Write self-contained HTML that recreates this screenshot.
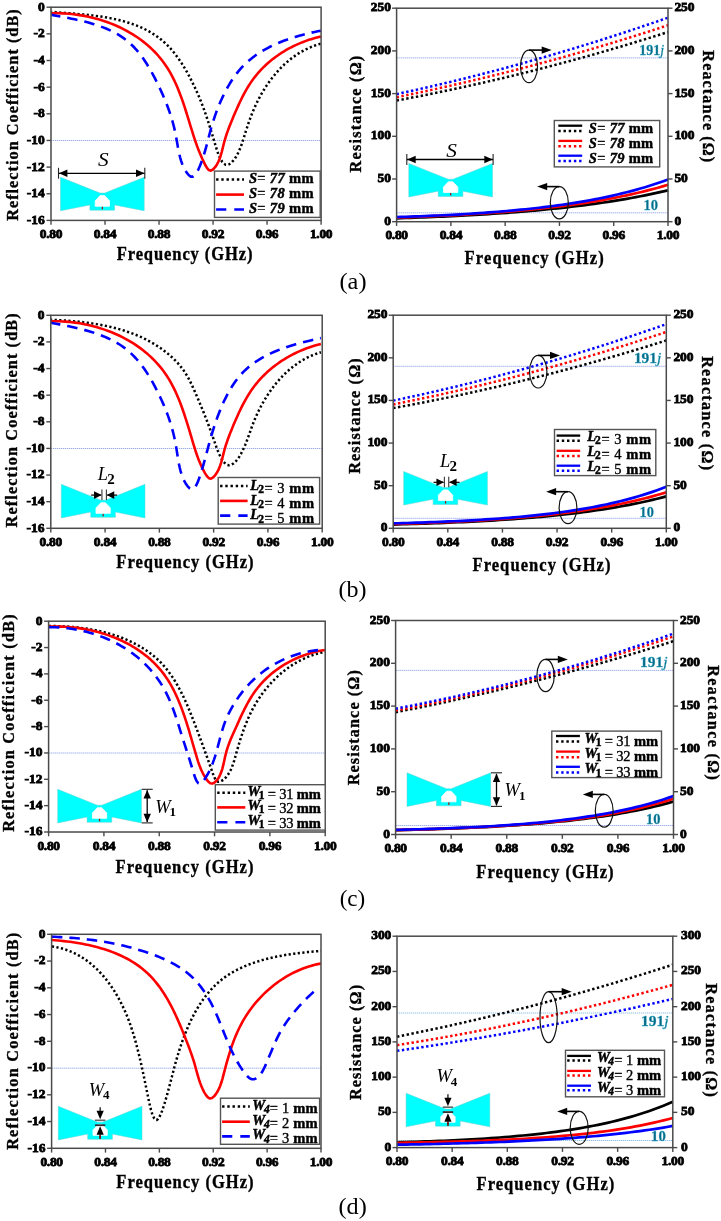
<!DOCTYPE html>
<html><head><meta charset="utf-8"><title>Figure</title>
<style>html,body{margin:0;padding:0;background:#fff;} svg{display:block;} text{font-family:"Liberation Serif",serif;} svg{will-change:transform;}</style></head>
<body><svg width="721" height="1221" viewBox="0 0 721 1221">
<rect width="721" height="1221" fill="#fff"/>
<line x1="51" y1="140.5" x2="321.1" y2="140.5" stroke="#98aaea" stroke-width="1.0" stroke-dasharray="1.3 0.7"/>
<clipPath id="ca"><rect x="51.3" y="3.2" width="269.8" height="221.2"/></clipPath><g clip-path="url(#ca)">
<path d="M50,11.7 52.88,11.96 55.78,12.2 58.71,12.44 61.66,12.67 64.63,12.9 67.61,13.14 70.62,13.37 73.63,13.62 76.66,13.87 79.7,14.14 82.74,14.42 85.79,14.72 88.84,15.05 91.89,15.39 94.94,15.77 97.98,16.17 101.02,16.6 104.05,17.08 107.07,17.58 110.07,18.13 113.06,18.73 116.03,19.36 118.99,20.05 121.92,20.79 124.82,21.59 127.7,22.44 130.55,23.35 133.37,24.33 136.16,25.37 138.91,26.48 141.62,27.67 144.3,28.92 146.93,30.26 149.51,31.67 152.06,33.17 154.55,34.75 156.99,36.42 159.38,38.18 161.71,40.04 163.98,41.99 166.2,44.04 168.35,46.2 170.45,48.44 172.48,50.78 174.45,53.19 176.36,55.66 178.21,58.2 180.01,60.79 181.74,63.42 183.42,66.08 185.05,68.77 186.61,71.47 188.13,74.18 189.58,76.89 190.99,79.58 192.34,82.26 193.63,84.91 194.88,87.52 196.08,90.1 197.23,92.65 198.34,95.19 199.42,97.72 200.46,100.25 201.48,102.8 202.48,105.37 203.46,107.98 204.42,110.63 205.38,113.33 206.34,116.11 207.29,118.95 208.25,121.89 209.22,124.91 210.21,128.05 211.22,131.3 212.25,134.67 213.3,138.19 214.4,141.84 215.53,145.61 216.71,149.36 217.96,152.97 219.28,156.33 220.69,159.3 222.19,161.77 223.81,163.61 225.55,164.69 227.42,164.9 229.42,164.13 231.49,162.54 233.51,160.34 235.4,157.78 237.07,155.02 238.55,152.11 239.86,149.11 241.04,146.04 242.12,142.93 243.13,139.84 244.09,136.79 245.03,133.81 245.95,130.89 246.88,128.02 247.81,125.2 248.76,122.42 249.72,119.67 250.73,116.94 251.77,114.23 252.86,111.53 254.01,108.82 255.22,106.13 256.48,103.44 257.8,100.77 259.17,98.11 260.6,95.47 262.09,92.85 263.64,90.25 265.24,87.69 266.9,85.16 268.61,82.67 270.39,80.21 272.22,77.8 274.11,75.43 276.05,73.11 278.05,70.85 280.11,68.64 282.23,66.49 284.41,64.41 286.64,62.39 288.93,60.44 291.27,58.56 293.68,56.76 296.14,55.04 298.66,53.41 301.24,51.86 303.88,50.4 306.57,49.03 309.32,47.76 312.14,46.59 315,45.53 317.93,44.57 320.92,43.72" fill="none" stroke="#000" stroke-width="2.5" stroke-linejoin="round" stroke-linecap="butt" stroke-dasharray="2.2 2.4"/>
<path d="M49.99,13.24 53.09,13.18 56.2,13.17 59.31,13.23 62.43,13.35 65.55,13.53 68.67,13.77 71.78,14.07 74.9,14.44 78,14.86 81.1,15.35 84.18,15.9 87.26,16.51 90.31,17.18 93.36,17.91 96.38,18.71 99.39,19.56 102.37,20.48 105.33,21.46 108.27,22.5 111.17,23.6 114.05,24.77 116.9,25.99 119.71,27.28 122.49,28.63 125.23,30.04 127.93,31.51 130.59,33.04 133.21,34.64 135.79,36.29 138.31,38.01 140.79,39.79 143.22,41.63 145.6,43.53 147.92,45.5 150.19,47.52 152.4,49.61 154.54,51.76 156.63,53.97 158.65,56.24 160.61,58.57 162.5,60.97 164.32,63.42 166.07,65.94 167.74,68.52 169.35,71.16 170.88,73.86 172.35,76.6 173.76,79.39 175.11,82.23 176.41,85.1 177.65,88.01 178.85,90.95 180,93.91 181.12,96.9 182.2,99.9 183.24,102.92 184.26,105.94 185.25,108.98 186.21,112.01 187.16,115.04 188.1,118.06 189.02,121.07 189.93,124.07 190.84,127.04 191.75,129.99 192.67,132.92 193.59,135.81 194.52,138.67 195.47,141.49 196.45,144.31 197.47,147.14 198.56,149.98 199.71,152.86 200.95,155.78 202.27,158.78 203.71,161.85 205.26,165.01 206.95,167.96 208.8,170.06 210.84,170.65 213.01,169.5 215.11,167.23 216.96,164.46 218.49,161.51 219.76,158.43 220.82,155.25 221.74,152.01 222.56,148.76 223.34,145.54 224.15,142.39 225.01,139.32 225.92,136.34 226.88,133.42 227.89,130.56 228.93,127.74 230.02,124.94 231.14,122.17 232.28,119.39 233.45,116.61 234.64,113.81 235.85,111 237.1,108.17 238.37,105.35 239.68,102.52 241.03,99.71 242.43,96.91 243.88,94.13 245.38,91.38 246.93,88.67 248.55,86 250.24,83.37 252,80.8 253.83,78.29 255.73,75.84 257.71,73.46 259.76,71.14 261.88,68.88 264.07,66.69 266.32,64.57 268.62,62.51 270.99,60.52 273.42,58.59 275.9,56.74 278.43,54.95 281,53.22 283.63,51.57 286.3,49.99 289.01,48.47 291.76,47.03 294.55,45.65 297.37,44.35 300.23,43.11 303.11,41.95 306.02,40.86 308.96,39.84 311.92,38.9 314.89,38.03 317.89,37.23 320.9,36.5" fill="none" stroke="#ff0000" stroke-width="2.6" stroke-linejoin="round" stroke-linecap="butt"/>
<path d="M50,14.6 52.99,15.15 56.03,15.71 59.1,16.27 62.21,16.84 65.34,17.43 68.49,18.03 71.66,18.67 74.84,19.33 78.03,20.02 81.21,20.75 84.39,21.53 87.56,22.35 90.72,23.23 93.85,24.16 96.96,25.16 100.03,26.22 103.07,27.35 106.07,28.55 109.02,29.84 111.92,31.21 114.75,32.67 117.53,34.22 120.24,35.87 122.87,37.62 125.43,39.48 127.9,41.45 130.28,43.54 132.58,45.73 134.79,48.02 136.93,50.41 138.99,52.88 140.97,55.43 142.89,58.05 144.73,60.73 146.52,63.47 148.24,66.25 149.91,69.07 151.53,71.92 153.09,74.8 154.6,77.69 156.08,80.59 157.51,83.48 158.9,86.38 160.26,89.26 161.58,92.13 162.86,95 164.11,97.87 165.31,100.74 166.47,103.63 167.59,106.52 168.67,109.44 169.7,112.39 170.68,115.36 171.62,118.36 172.51,121.4 173.35,124.49 174.14,127.62 174.88,130.8 175.56,134.03 176.19,137.33 176.78,140.68 177.36,144.06 177.96,147.46 178.61,150.85 179.33,154.22 180.16,157.56 181.13,160.83 182.25,164.03 183.57,167.13 185.12,170.11 186.9,172.92 188.84,175.22 190.86,176.58 192.84,176.61 194.73,175.27 196.53,172.89 198.21,169.78 199.76,166.26 201.17,162.66 202.44,159.16 203.58,155.75 204.62,152.43 205.56,149.18 206.44,146 207.26,142.88 208.05,139.8 208.83,136.76 209.61,133.74 210.41,130.74 211.24,127.75 212.12,124.77 213.03,121.79 213.99,118.82 214.99,115.86 216.04,112.9 217.14,109.95 218.3,106.99 219.5,104.05 220.77,101.1 222.09,98.16 223.48,95.24 224.92,92.33 226.44,89.46 228.01,86.61 229.66,83.81 231.38,81.05 233.17,78.35 235.03,75.71 236.97,73.13 238.99,70.63 241.09,68.21 243.27,65.87 245.53,63.63 247.87,61.48 250.28,59.41 252.77,57.44 255.33,55.55 257.95,53.74 260.63,52.01 263.37,50.36 266.15,48.78 268.99,47.28 271.87,45.85 274.8,44.49 277.76,43.19 280.75,41.96 283.77,40.78 286.82,39.67 289.89,38.62 292.97,37.62 296.07,36.67 299.18,35.77 302.3,34.92 305.41,34.12 308.53,33.36 311.64,32.64 314.74,31.95 317.82,31.31 320.89,30.7" fill="none" stroke="#0000ff" stroke-width="2.6" stroke-linejoin="round" stroke-linecap="butt" stroke-dasharray="10.5 7"/>
</g>
<rect x="51" y="7.2" width="270.1" height="213.2" fill="none" stroke="#4a4a4a" stroke-width="1.5"/>
<line x1="46.5" y1="7.2" x2="51" y2="7.2" stroke="#4a4a4a" stroke-width="1.4" />
<text x="44.8" y="10.6" font-size="13.5" font-weight="bold" font-style="normal" text-anchor="end" fill="#000" stroke="#000" stroke-width="0.8" >0</text>
<line x1="46.5" y1="33.85" x2="51" y2="33.85" stroke="#4a4a4a" stroke-width="1.4" />
<text x="44.8" y="37.25" font-size="13.5" font-weight="bold" font-style="normal" text-anchor="end" fill="#000" stroke="#000" stroke-width="0.8" >-2</text>
<line x1="46.5" y1="60.5" x2="51" y2="60.5" stroke="#4a4a4a" stroke-width="1.4" />
<text x="44.8" y="63.9" font-size="13.5" font-weight="bold" font-style="normal" text-anchor="end" fill="#000" stroke="#000" stroke-width="0.8" >-4</text>
<line x1="46.5" y1="87.15" x2="51" y2="87.15" stroke="#4a4a4a" stroke-width="1.4" />
<text x="44.8" y="90.55" font-size="13.5" font-weight="bold" font-style="normal" text-anchor="end" fill="#000" stroke="#000" stroke-width="0.8" >-6</text>
<line x1="46.5" y1="113.8" x2="51" y2="113.8" stroke="#4a4a4a" stroke-width="1.4" />
<text x="44.8" y="117.2" font-size="13.5" font-weight="bold" font-style="normal" text-anchor="end" fill="#000" stroke="#000" stroke-width="0.8" >-8</text>
<line x1="46.5" y1="140.45" x2="51" y2="140.45" stroke="#4a4a4a" stroke-width="1.4" />
<text x="44.8" y="143.85" font-size="13.5" font-weight="bold" font-style="normal" text-anchor="end" fill="#000" stroke="#000" stroke-width="0.8" >-10</text>
<line x1="46.5" y1="167.1" x2="51" y2="167.1" stroke="#4a4a4a" stroke-width="1.4" />
<text x="44.8" y="170.5" font-size="13.5" font-weight="bold" font-style="normal" text-anchor="end" fill="#000" stroke="#000" stroke-width="0.8" >-12</text>
<line x1="46.5" y1="193.75" x2="51" y2="193.75" stroke="#4a4a4a" stroke-width="1.4" />
<text x="44.8" y="197.15" font-size="13.5" font-weight="bold" font-style="normal" text-anchor="end" fill="#000" stroke="#000" stroke-width="0.8" >-14</text>
<line x1="46.5" y1="220.4" x2="51" y2="220.4" stroke="#4a4a4a" stroke-width="1.4" />
<text x="44.8" y="223.8" font-size="13.5" font-weight="bold" font-style="normal" text-anchor="end" fill="#000" stroke="#000" stroke-width="0.8" >-16</text>
<line x1="51" y1="220.4" x2="51" y2="224.7" stroke="#4a4a4a" stroke-width="1.4" />
<text x="51" y="238" font-size="13.5" font-weight="bold" font-style="normal" text-anchor="middle" fill="#000" letter-spacing="-0.3" stroke="#000" stroke-width="0.8" >0.80</text>
<line x1="105.02" y1="220.4" x2="105.02" y2="224.7" stroke="#4a4a4a" stroke-width="1.4" />
<text x="105.02" y="238" font-size="13.5" font-weight="bold" font-style="normal" text-anchor="middle" fill="#000" letter-spacing="-0.3" stroke="#000" stroke-width="0.8" >0.84</text>
<line x1="159.04" y1="220.4" x2="159.04" y2="224.7" stroke="#4a4a4a" stroke-width="1.4" />
<text x="159.04" y="238" font-size="13.5" font-weight="bold" font-style="normal" text-anchor="middle" fill="#000" letter-spacing="-0.3" stroke="#000" stroke-width="0.8" >0.88</text>
<line x1="213.06" y1="220.4" x2="213.06" y2="224.7" stroke="#4a4a4a" stroke-width="1.4" />
<text x="213.06" y="238" font-size="13.5" font-weight="bold" font-style="normal" text-anchor="middle" fill="#000" letter-spacing="-0.3" stroke="#000" stroke-width="0.8" >0.92</text>
<line x1="267.08" y1="220.4" x2="267.08" y2="224.7" stroke="#4a4a4a" stroke-width="1.4" />
<text x="267.08" y="238" font-size="13.5" font-weight="bold" font-style="normal" text-anchor="middle" fill="#000" letter-spacing="-0.3" stroke="#000" stroke-width="0.8" >0.96</text>
<line x1="321.1" y1="220.4" x2="321.1" y2="224.7" stroke="#4a4a4a" stroke-width="1.4" />
<text x="321.1" y="238" font-size="13.5" font-weight="bold" font-style="normal" text-anchor="middle" fill="#000" letter-spacing="-0.3" stroke="#000" stroke-width="0.8" >1.00</text>
<text x="0" y="0" transform="translate(18.4 115.1) rotate(-90) scale(0.92 1)" font-size="17.6" font-weight="bold" text-anchor="middle" stroke="#000" stroke-width="0.35" textLength="229.89" lengthAdjust="spacing">Reflection&#160;Coefficient&#160;(dB)</text>
<text x="0" y="0" transform="translate(116.7 259.9) scale(0.92 1)" font-size="18" font-weight="bold" text-anchor="start" stroke="#000" stroke-width="0.35" textLength="147.61" lengthAdjust="spacing">Frequency (GHz)</text>
<rect x="214.5" y="171.1" width="105.7" height="46.3" fill="#fff" stroke="#555" stroke-width="1.4"/>
<line x1="216.1" y1="179.4" x2="244" y2="179.4" stroke="#000" stroke-width="2.5" stroke-dasharray="2.4 2.8"/>
<text x="248.9" y="182.7" font-size="14.5" font-weight="bold" font-style="italic" stroke="#000" stroke-width="0.45" textLength="64.7" lengthAdjust="spacing">S<tspan font-style="normal" font-weight="normal" stroke-width="0.3">= </tspan><tspan font-style="italic" font-weight="bold">77</tspan><tspan font-style="normal"> mm</tspan></text>
<line x1="216.1" y1="194.6" x2="244" y2="194.6" stroke="#ff0000" stroke-width="2.6" />
<text x="248.9" y="197.9" font-size="14.5" font-weight="bold" font-style="italic" stroke="#000" stroke-width="0.45" textLength="64.7" lengthAdjust="spacing">S<tspan font-style="normal" font-weight="normal" stroke-width="0.3">= </tspan><tspan font-style="italic" font-weight="bold">78</tspan><tspan font-style="normal"> mm</tspan></text>
<line x1="216.1" y1="209.5" x2="244" y2="209.5" stroke="#0000ff" stroke-width="2.6" stroke-dasharray="10.2 8"/>
<text x="248.9" y="212.8" font-size="14.5" font-weight="bold" font-style="italic" stroke="#000" stroke-width="0.45" textLength="64.7" lengthAdjust="spacing">S<tspan font-style="normal" font-weight="normal" stroke-width="0.3">= </tspan><tspan font-style="italic" font-weight="bold">79</tspan><tspan font-style="normal"> mm</tspan></text>
<path d="M60.5,177.2 L100,193.09 L104.7,193.09 L144.2,177.2 L144.2,210.8 L114.6,204.97 L114.6,210.2 L89.9,210.2 L89.9,204.97 L60.5,210.8 Z" fill="#00ffff" stroke="#60d0d0" stroke-width="0.5"/>
<path d="M100.1,195.61 L104.6,195.61 L109.5,200.84 L109.5,206.27 L95.2,206.27 L95.2,200.84 Z" fill="#fff" stroke="#fff" stroke-width="0.8" stroke-linejoin="round"/>
<rect x="101.7" y="206.78" width="1.3" height="2.5" fill="#a01818"/>
<line x1="58.5" y1="173.3" x2="144.8" y2="173.3" stroke="#000" stroke-width="1.3" />
<path d="M58.9,173.3 L67.4,169.6 L67.4,177 Z" fill="#000"/>
<path d="M144.5,173.3 L136,177 L136,169.6 Z" fill="#000"/>
<line x1="58.5" y1="167.8" x2="58.5" y2="178.7" stroke="#222" stroke-width="1.1" />
<line x1="144.8" y1="167.8" x2="144.8" y2="178.7" stroke="#222" stroke-width="1.1" />
<text x="103.35" y="165.6" font-size="18.5" font-style="italic" text-anchor="middle" transform="translate(103.35 165.6) scale(1.15 1) translate(-103.35 -165.6)">S</text>
<line x1="396.6" y1="57.9" x2="668" y2="57.9" stroke="#98aaea" stroke-width="1.0" stroke-dasharray="1.3 0.7"/>
<line x1="396.6" y1="212.8" x2="668" y2="212.8" stroke="#98aaea" stroke-width="1.0" stroke-dasharray="1.3 0.7"/>
<path d="M396.6,100.52 401.2,99.66 405.8,98.79 410.4,97.92 415,97.03 419.6,96.13 424.2,95.22 428.8,94.3 433.4,93.37 438,92.43 442.6,91.48 447.2,90.52 451.8,89.55 456.4,88.56 461,87.57 465.6,86.57 470.2,85.55 474.8,84.53 479.4,83.49 484,82.45 488.6,81.39 493.2,80.32 497.8,79.25 502.4,78.16 507,77.06 511.6,75.95 516.2,74.84 520.8,73.71 525.4,72.57 530,71.42 534.6,70.25 539.2,69.08 543.8,67.9 548.4,66.71 553,65.51 557.6,64.29 562.2,63.07 566.8,61.84 571.4,60.59 576,59.34 580.6,58.07 585.2,56.79 589.8,55.51 594.4,54.21 599,52.9 603.6,51.58 608.2,50.25 612.8,48.92 617.4,47.57 622,46.21 626.6,44.83 631.2,43.45 635.8,42.06 640.4,40.66 645,39.25 649.6,37.82 654.2,36.39 658.8,34.95 663.4,33.49 668,32.03" fill="none" stroke="#000" stroke-width="2.5" stroke-linejoin="round" stroke-linecap="butt" stroke-dasharray="2.4 2.5"/>
<path d="M396.6,97.19 401.2,96.26 405.8,95.32 410.4,94.36 415,93.4 419.6,92.43 424.2,91.45 428.8,90.46 433.4,89.46 438,88.45 442.6,87.43 447.2,86.4 451.8,85.36 456.4,84.31 461,83.25 465.6,82.18 470.2,81.1 474.8,80.01 479.4,78.91 484,77.8 488.6,76.68 493.2,75.55 497.8,74.41 502.4,73.26 507,72.11 511.6,70.94 516.2,69.76 520.8,68.57 525.4,67.37 530,66.16 534.6,64.94 539.2,63.71 543.8,62.47 548.4,61.23 553,59.97 557.6,58.7 562.2,57.42 566.8,56.13 571.4,54.83 576,53.53 580.6,52.21 585.2,50.88 589.8,49.54 594.4,48.19 599,46.84 603.6,45.47 608.2,44.09 612.8,42.7 617.4,41.31 622,39.9 626.6,38.48 631.2,37.06 635.8,35.62 640.4,34.17 645,32.71 649.6,31.25 654.2,29.77 658.8,28.28 663.4,26.79 668,25.28" fill="none" stroke="#ff0000" stroke-width="2.5" stroke-linejoin="round" stroke-linecap="butt" stroke-dasharray="2.4 2.5"/>
<path d="M396.6,94.11 401.2,93.12 405.8,92.12 410.4,91.11 415,90.09 419.6,89.06 424.2,88.02 428.8,86.97 433.4,85.91 438,84.83 442.6,83.75 447.2,82.66 451.8,81.55 456.4,80.44 461,79.31 465.6,78.17 470.2,77.03 474.8,75.87 479.4,74.7 484,73.52 488.6,72.33 493.2,71.13 497.8,69.92 502.4,68.7 507,67.47 511.6,66.22 516.2,64.97 520.8,63.71 525.4,62.43 530,61.15 534.6,59.85 539.2,58.55 543.8,57.23 548.4,55.9 553,54.56 557.6,53.22 562.2,51.86 566.8,50.49 571.4,49.11 576,47.72 580.6,46.32 585.2,44.9 589.8,43.48 594.4,42.05 599,40.6 603.6,39.15 608.2,37.69 612.8,36.21 617.4,34.72 622,33.23 626.6,31.72 631.2,30.2 635.8,28.67 640.4,27.14 645,25.59 649.6,24.03 654.2,22.45 658.8,20.87 663.4,19.28 668,17.68" fill="none" stroke="#0000ff" stroke-width="2.5" stroke-linejoin="round" stroke-linecap="butt" stroke-dasharray="2.4 2.5"/>
<path d="M396.6,218.31 401.2,218.16 405.8,218 410.4,217.84 415,217.67 419.6,217.49 424.2,217.31 428.8,217.13 433.4,216.94 438,216.74 442.6,216.53 447.2,216.32 451.8,216.1 456.4,215.87 461,215.63 465.6,215.39 470.2,215.14 474.8,214.87 479.4,214.6 484,214.33 488.6,214.04 493.2,213.74 497.8,213.43 502.4,213.11 507,212.78 511.6,212.44 516.2,212.08 520.8,211.72 525.4,211.34 530,210.95 534.6,210.54 539.2,210.13 543.8,209.69 548.4,209.25 553,208.78 557.6,208.3 562.2,207.81 566.8,207.3 571.4,206.77 576,206.22 580.6,205.65 585.2,205.07 589.8,204.46 594.4,203.84 599,203.19 603.6,202.52 608.2,201.82 612.8,201.11 617.4,200.36 622,199.6 626.6,198.8 631.2,197.98 635.8,197.14 640.4,196.26 645,195.35 649.6,194.41 654.2,193.44 658.8,192.44 663.4,191.4 668,190.32" fill="none" stroke="#000" stroke-width="2.7" stroke-linejoin="round" stroke-linecap="butt"/>
<path d="M396.6,217.6 401.2,217.44 405.8,217.28 410.4,217.12 415,216.94 419.6,216.76 424.2,216.58 428.8,216.38 433.4,216.18 438,215.97 442.6,215.76 447.2,215.53 451.8,215.3 456.4,215.06 461,214.81 465.6,214.54 470.2,214.27 474.8,213.99 479.4,213.7 484,213.4 488.6,213.08 493.2,212.76 497.8,212.42 502.4,212.06 507,211.7 511.6,211.32 516.2,210.93 520.8,210.52 525.4,210.09 530,209.65 534.6,209.2 539.2,208.72 543.8,208.23 548.4,207.72 553,207.19 557.6,206.63 562.2,206.06 566.8,205.47 571.4,204.85 576,204.21 580.6,203.55 585.2,202.86 589.8,202.14 594.4,201.4 599,200.63 603.6,199.82 608.2,198.99 612.8,198.13 617.4,197.23 622,196.3 626.6,195.34 631.2,194.34 635.8,193.29 640.4,192.21 645,191.09 649.6,189.93 654.2,188.72 658.8,187.47 663.4,186.16 668,184.81" fill="none" stroke="#ff0000" stroke-width="2.7" stroke-linejoin="round" stroke-linecap="butt"/>
<path d="M396.6,217.13 401.2,216.97 405.8,216.81 410.4,216.65 415,216.47 419.6,216.29 424.2,216.11 428.8,215.91 433.4,215.71 438,215.49 442.6,215.27 447.2,215.04 451.8,214.8 456.4,214.55 461,214.29 465.6,214.02 470.2,213.73 474.8,213.44 479.4,213.13 484,212.81 488.6,212.47 493.2,212.13 497.8,211.76 502.4,211.38 507,210.99 511.6,210.58 516.2,210.15 520.8,209.71 525.4,209.24 530,208.76 534.6,208.25 539.2,207.73 543.8,207.18 548.4,206.61 553,206.02 557.6,205.4 562.2,204.75 566.8,204.08 571.4,203.38 576,202.65 580.6,201.89 585.2,201.09 589.8,200.27 594.4,199.41 599,198.51 603.6,197.58 608.2,196.6 612.8,195.59 617.4,194.53 622,193.43 626.6,192.29 631.2,191.09 635.8,189.84 640.4,188.55 645,187.19 649.6,185.79 654.2,184.32 658.8,182.79 663.4,181.19 668,179.53" fill="none" stroke="#0000ff" stroke-width="2.7" stroke-linejoin="round" stroke-linecap="butt"/>
<rect x="396.6" y="8.2" width="271.4" height="213.5" fill="none" stroke="#4a4a4a" stroke-width="1.5"/>
<line x1="392.1" y1="221.7" x2="396.6" y2="221.7" stroke="#4a4a4a" stroke-width="1.4" />
<line x1="668" y1="221.7" x2="672.5" y2="221.7" stroke="#4a4a4a" stroke-width="1.4" />
<text x="390.8" y="224.7" font-size="13.5" font-weight="bold" font-style="normal" text-anchor="end" fill="#000" letter-spacing="-0.1" stroke="#000" stroke-width="0.8" >0</text>
<text x="674.4" y="224.7" font-size="13.5" font-weight="bold" font-style="normal" text-anchor="start" fill="#000" letter-spacing="-0.1" stroke="#000" stroke-width="0.8" >0</text>
<line x1="392.1" y1="179" x2="396.6" y2="179" stroke="#4a4a4a" stroke-width="1.4" />
<line x1="668" y1="179" x2="672.5" y2="179" stroke="#4a4a4a" stroke-width="1.4" />
<text x="390.8" y="182" font-size="13.5" font-weight="bold" font-style="normal" text-anchor="end" fill="#000" letter-spacing="-0.1" stroke="#000" stroke-width="0.8" >50</text>
<text x="674.4" y="182" font-size="13.5" font-weight="bold" font-style="normal" text-anchor="start" fill="#000" letter-spacing="-0.1" stroke="#000" stroke-width="0.8" >50</text>
<line x1="392.1" y1="136.3" x2="396.6" y2="136.3" stroke="#4a4a4a" stroke-width="1.4" />
<line x1="668" y1="136.3" x2="672.5" y2="136.3" stroke="#4a4a4a" stroke-width="1.4" />
<text x="390.8" y="139.3" font-size="13.5" font-weight="bold" font-style="normal" text-anchor="end" fill="#000" letter-spacing="-0.1" stroke="#000" stroke-width="0.8" >100</text>
<text x="674.4" y="139.3" font-size="13.5" font-weight="bold" font-style="normal" text-anchor="start" fill="#000" letter-spacing="-0.1" stroke="#000" stroke-width="0.8" >100</text>
<line x1="392.1" y1="93.6" x2="396.6" y2="93.6" stroke="#4a4a4a" stroke-width="1.4" />
<line x1="668" y1="93.6" x2="672.5" y2="93.6" stroke="#4a4a4a" stroke-width="1.4" />
<text x="390.8" y="96.6" font-size="13.5" font-weight="bold" font-style="normal" text-anchor="end" fill="#000" letter-spacing="-0.1" stroke="#000" stroke-width="0.8" >150</text>
<text x="674.4" y="96.6" font-size="13.5" font-weight="bold" font-style="normal" text-anchor="start" fill="#000" letter-spacing="-0.1" stroke="#000" stroke-width="0.8" >150</text>
<line x1="392.1" y1="50.9" x2="396.6" y2="50.9" stroke="#4a4a4a" stroke-width="1.4" />
<line x1="668" y1="50.9" x2="672.5" y2="50.9" stroke="#4a4a4a" stroke-width="1.4" />
<text x="390.8" y="53.9" font-size="13.5" font-weight="bold" font-style="normal" text-anchor="end" fill="#000" letter-spacing="-0.1" stroke="#000" stroke-width="0.8" >200</text>
<text x="674.4" y="53.9" font-size="13.5" font-weight="bold" font-style="normal" text-anchor="start" fill="#000" letter-spacing="-0.1" stroke="#000" stroke-width="0.8" >200</text>
<line x1="392.1" y1="8.2" x2="396.6" y2="8.2" stroke="#4a4a4a" stroke-width="1.4" />
<line x1="668" y1="8.2" x2="672.5" y2="8.2" stroke="#4a4a4a" stroke-width="1.4" />
<text x="390.8" y="11.2" font-size="13.5" font-weight="bold" font-style="normal" text-anchor="end" fill="#000" letter-spacing="-0.1" stroke="#000" stroke-width="0.8" >250</text>
<text x="674.4" y="11.2" font-size="13.5" font-weight="bold" font-style="normal" text-anchor="start" fill="#000" letter-spacing="-0.1" stroke="#000" stroke-width="0.8" >250</text>
<line x1="396.6" y1="221.7" x2="396.6" y2="226" stroke="#4a4a4a" stroke-width="1.4" />
<text x="396.6" y="239.3" font-size="13.5" font-weight="bold" font-style="normal" text-anchor="middle" fill="#000" letter-spacing="-0.3" stroke="#000" stroke-width="0.8" >0.80</text>
<line x1="450.88" y1="221.7" x2="450.88" y2="226" stroke="#4a4a4a" stroke-width="1.4" />
<text x="450.88" y="239.3" font-size="13.5" font-weight="bold" font-style="normal" text-anchor="middle" fill="#000" letter-spacing="-0.3" stroke="#000" stroke-width="0.8" >0.84</text>
<line x1="505.16" y1="221.7" x2="505.16" y2="226" stroke="#4a4a4a" stroke-width="1.4" />
<text x="505.16" y="239.3" font-size="13.5" font-weight="bold" font-style="normal" text-anchor="middle" fill="#000" letter-spacing="-0.3" stroke="#000" stroke-width="0.8" >0.88</text>
<line x1="559.44" y1="221.7" x2="559.44" y2="226" stroke="#4a4a4a" stroke-width="1.4" />
<text x="559.44" y="239.3" font-size="13.5" font-weight="bold" font-style="normal" text-anchor="middle" fill="#000" letter-spacing="-0.3" stroke="#000" stroke-width="0.8" >0.92</text>
<line x1="613.72" y1="221.7" x2="613.72" y2="226" stroke="#4a4a4a" stroke-width="1.4" />
<text x="613.72" y="239.3" font-size="13.5" font-weight="bold" font-style="normal" text-anchor="middle" fill="#000" letter-spacing="-0.3" stroke="#000" stroke-width="0.8" >0.96</text>
<line x1="668" y1="221.7" x2="668" y2="226" stroke="#4a4a4a" stroke-width="1.4" />
<text x="668" y="239.3" font-size="13.5" font-weight="bold" font-style="normal" text-anchor="middle" fill="#000" letter-spacing="-0.3" stroke="#000" stroke-width="0.8" >1.00</text>
<text x="0" y="0" transform="translate(360.85 114.1) rotate(-90) scale(0.92 1)" font-size="17.6" font-weight="bold" text-anchor="middle" stroke="#000" stroke-width="0.35" textLength="126.85" lengthAdjust="spacing">Resistance&#160;(&#937;)</text>
<text x="0" y="0" transform="translate(702.8 106.3) rotate(90) scale(0.92 1)" font-size="17.6" font-weight="bold" text-anchor="middle" stroke="#000" stroke-width="0.35" textLength="121.63" lengthAdjust="spacing">Reactance&#160;(&#937;)</text>
<text x="0" y="0" transform="translate(464.5 263.7) scale(0.92 1)" font-size="18" font-weight="bold" text-anchor="start" stroke="#000" stroke-width="0.35" textLength="151.3" lengthAdjust="spacing">Frequency (GHz)</text>
<text x="639.3" y="54.8" font-size="14.5" font-weight="bold" fill="#0c6a86" stroke="#2aa8c8" stroke-width="0.35" textLength="24.9" lengthAdjust="spacingAndGlyphs">191<tspan font-style="italic" font-weight="normal">j</tspan></text>
<text x="643.5" y="209.7" font-size="14.5" font-weight="bold" fill="#0c6a86" stroke="#2aa8c8" stroke-width="0.35" textLength="14.5" lengthAdjust="spacingAndGlyphs">10</text>
<ellipse cx="529" cy="66.4" rx="8.5" ry="16.3" fill="none" stroke="#111" stroke-width="1.2"/>
<line x1="529" y1="50.1" x2="544.7" y2="50.1" stroke="#000" stroke-width="1.6" />
<path d="M551.7,50.1 L541.7,46.5 L541.7,53.7 Z" fill="#000"/>
<ellipse cx="559.3" cy="202.7" rx="9" ry="16.1" fill="none" stroke="#111" stroke-width="1.2"/>
<line x1="559.3" y1="186.6" x2="544.2" y2="186.6" stroke="#000" stroke-width="1.6" />
<path d="M537.2,186.6 L547.2,183 L547.2,190.2 Z" fill="#000"/>
<rect x="554.3" y="120.5" width="105.4" height="46.4" fill="#fff" stroke="#555" stroke-width="1.4"/>
<line x1="558.3" y1="125.7" x2="582.2" y2="125.7" stroke="#000" stroke-width="2.3" />
<line x1="558.3" y1="131.1" x2="582.2" y2="131.1" stroke="#000" stroke-width="2.5" stroke-dasharray="2.4 2.8"/>
<text x="588.8" y="132.6" font-size="14.5" font-weight="bold" font-style="italic" stroke="#000" stroke-width="0.45" textLength="64.4" lengthAdjust="spacing">S<tspan font-style="normal" font-weight="normal" stroke-width="0.3">= </tspan><tspan font-style="italic" font-weight="bold">77</tspan><tspan font-style="normal"> mm</tspan></text>
<line x1="558.3" y1="140.9" x2="582.2" y2="140.9" stroke="#ff0000" stroke-width="2.3" />
<line x1="558.3" y1="146.3" x2="582.2" y2="146.3" stroke="#ff0000" stroke-width="2.5" stroke-dasharray="2.4 2.8"/>
<text x="588.8" y="147.8" font-size="14.5" font-weight="bold" font-style="italic" stroke="#000" stroke-width="0.45" textLength="64.4" lengthAdjust="spacing">S<tspan font-style="normal" font-weight="normal" stroke-width="0.3">= </tspan><tspan font-style="italic" font-weight="bold">78</tspan><tspan font-style="normal"> mm</tspan></text>
<line x1="558.3" y1="155.7" x2="582.2" y2="155.7" stroke="#0000ff" stroke-width="2.3" />
<line x1="558.3" y1="161.1" x2="582.2" y2="161.1" stroke="#0000ff" stroke-width="2.5" stroke-dasharray="2.4 2.8"/>
<text x="588.8" y="162.6" font-size="14.5" font-weight="bold" font-style="italic" stroke="#000" stroke-width="0.45" textLength="64.4" lengthAdjust="spacing">S<tspan font-style="normal" font-weight="normal" stroke-width="0.3">= </tspan><tspan font-style="italic" font-weight="bold">79</tspan><tspan font-style="normal"> mm</tspan></text>
<path d="M408.8,163.4 L448.3,179.29 L453,179.29 L492.5,163.4 L492.5,197 L462.9,191.17 L462.9,196.4 L438.2,196.4 L438.2,191.17 L408.8,197 Z" fill="#00ffff" stroke="#60d0d0" stroke-width="0.5"/>
<path d="M448.4,181.81 L452.9,181.81 L457.8,187.04 L457.8,192.47 L443.5,192.47 L443.5,187.04 Z" fill="#fff" stroke="#fff" stroke-width="0.8" stroke-linejoin="round"/>
<rect x="450" y="192.98" width="1.3" height="2.5" fill="#a01818"/>
<line x1="406.8" y1="159.5" x2="493.1" y2="159.5" stroke="#000" stroke-width="1.3" />
<path d="M407.2,159.5 L415.7,155.8 L415.7,163.2 Z" fill="#000"/>
<path d="M492.8,159.5 L484.3,163.2 L484.3,155.8 Z" fill="#000"/>
<line x1="406.8" y1="154" x2="406.8" y2="164.9" stroke="#222" stroke-width="1.1" />
<line x1="493.1" y1="154" x2="493.1" y2="164.9" stroke="#222" stroke-width="1.1" />
<text x="451.65" y="156.8" font-size="18.5" font-style="italic" text-anchor="middle" transform="translate(451.65 156.8) scale(1.15 1) translate(-451.65 -156.8)">S</text>
<text x="339.5" y="288.8" font-size="23.5" font-weight="normal" font-style="normal" text-anchor="start" fill="#000" textLength="27" lengthAdjust="spacingAndGlyphs">(a)</text>
<line x1="50.8" y1="448.5" x2="322.2" y2="448.5" stroke="#98aaea" stroke-width="1.0" stroke-dasharray="1.3 0.7"/>
<clipPath id="cb"><rect x="51.1" y="311.3" width="271.1" height="221"/></clipPath><g clip-path="url(#cb)">
<path d="M50,319.72 52.87,319.85 55.76,319.99 58.65,320.15 61.55,320.32 64.45,320.51 67.36,320.72 70.27,320.95 73.19,321.2 76.1,321.47 79.01,321.77 81.93,322.09 84.84,322.44 87.74,322.81 90.64,323.21 93.54,323.65 96.43,324.11 99.31,324.61 102.18,325.15 105.04,325.71 107.89,326.32 110.73,326.97 113.55,327.65 116.36,328.38 119.15,329.14 121.93,329.95 124.69,330.81 127.43,331.72 130.14,332.67 132.84,333.67 135.52,334.72 138.17,335.82 140.8,336.98 143.4,338.19 145.97,339.46 148.52,340.78 151.04,342.16 153.52,343.61 155.98,345.11 158.4,346.68 160.79,348.31 163.15,350 165.47,351.77 167.75,353.6 170,355.5 172.19,357.47 174.33,359.51 176.41,361.63 178.42,363.82 180.35,366.09 182.2,368.44 183.95,370.87 185.61,373.37 187.16,375.95 188.63,378.58 190.02,381.24 191.34,383.92 192.59,386.6 193.8,389.26 194.96,391.88 196.09,394.45 197.19,396.98 198.27,399.47 199.32,401.94 200.36,404.4 201.39,406.86 202.4,409.33 203.41,411.82 204.41,414.34 205.42,416.91 206.44,419.53 207.46,422.22 208.5,424.99 209.56,427.84 210.64,430.8 211.74,433.87 212.88,437.06 214.04,440.38 215.25,443.83 216.5,447.34 217.81,450.79 219.18,454.09 220.62,457.15 222.15,459.85 223.77,462.11 225.48,463.83 227.31,464.9 229.26,465.22 231.32,464.72 233.45,463.46 235.55,461.6 237.53,459.29 239.36,456.65 241.03,453.79 242.55,450.81 243.94,447.81 245.2,444.89 246.35,442.04 247.41,439.27 248.41,436.55 249.36,433.88 250.29,431.25 251.21,428.65 252.15,426.05 253.12,423.46 254.15,420.87 255.24,418.27 256.37,415.67 257.56,413.08 258.8,410.5 260.1,407.92 261.45,405.36 262.85,402.82 264.31,400.3 265.82,397.8 267.39,395.33 269,392.88 270.67,390.47 272.4,388.1 274.17,385.77 276,383.47 277.89,381.23 279.83,379.03 281.82,376.89 283.86,374.8 285.96,372.77 288.11,370.8 290.31,368.9 292.57,367.07 294.88,365.3 297.24,363.61 299.66,362 302.13,360.48 304.65,359.03 307.23,357.67 309.86,356.41 312.54,355.24 315.28,354.16 318.07,353.19 320.91,352.31" fill="none" stroke="#000" stroke-width="2.5" stroke-linejoin="round" stroke-linecap="butt" stroke-dasharray="2.2 2.4"/>
<path d="M49.99,321.24 53.09,321.19 56.2,321.21 59.31,321.29 62.43,321.44 65.54,321.64 68.65,321.9 71.77,322.23 74.87,322.62 77.97,323.07 81.06,323.58 84.14,324.15 87.2,324.79 90.25,325.48 93.29,326.24 96.3,327.05 99.3,327.93 102.27,328.87 105.23,329.87 108.15,330.93 111.05,332.05 113.92,333.23 116.76,334.48 119.56,335.78 122.33,337.14 125.06,338.57 127.76,340.05 130.41,341.6 133.02,343.2 135.59,344.87 138.12,346.6 140.59,348.38 143.01,350.23 145.39,352.14 147.71,354.11 149.97,356.13 152.18,358.22 154.33,360.37 156.42,362.57 158.45,364.84 160.41,367.17 162.31,369.55 164.14,372 165.89,374.51 167.58,377.07 169.2,379.69 170.75,382.37 172.23,385.09 173.66,387.86 175.03,390.68 176.34,393.53 177.6,396.42 178.82,399.34 179.99,402.28 181.12,405.25 182.21,408.24 183.26,411.25 184.29,414.26 185.28,417.29 186.25,420.32 187.2,423.36 188.13,426.39 189.05,429.41 189.95,432.43 190.84,435.43 191.73,438.42 192.61,441.38 193.5,444.32 194.39,447.23 195.29,450.12 196.24,452.99 197.23,455.86 198.29,458.73 199.43,461.61 200.66,464.51 202.01,467.42 203.5,470.37 205.12,473.36 206.91,476.17 208.86,478.16 210.97,478.62 213.18,477.39 215.29,475.07 217.13,472.29 218.66,469.33 219.92,466.23 220.98,463.04 221.9,459.8 222.74,456.56 223.54,453.36 224.37,450.23 225.25,447.19 226.17,444.23 227.14,441.34 228.14,438.49 229.19,435.68 230.27,432.9 231.38,430.14 232.52,427.37 233.68,424.59 234.88,421.8 236.1,418.98 237.35,416.16 238.64,413.33 239.97,410.51 241.34,407.69 242.75,404.89 244.22,402.12 245.74,399.37 247.32,396.66 248.95,393.98 250.65,391.36 252.42,388.8 254.26,386.29 256.17,383.85 258.15,381.47 260.19,379.15 262.3,376.9 264.47,374.71 266.7,372.58 268.99,370.52 271.34,368.53 273.74,366.6 276.19,364.73 278.69,362.93 281.24,361.19 283.84,359.52 286.48,357.92 289.16,356.38 291.89,354.91 294.65,353.51 297.45,352.17 300.28,350.9 303.15,349.7 306.04,348.56 308.97,347.49 311.92,346.5 314.89,345.56 317.89,344.7 320.91,343.91" fill="none" stroke="#ff0000" stroke-width="2.6" stroke-linejoin="round" stroke-linecap="butt"/>
<path d="M50,322.6 53.08,323.19 56.2,323.78 59.35,324.38 62.52,325 65.72,325.64 68.93,326.3 72.15,326.99 75.37,327.71 78.6,328.47 81.83,329.27 85.04,330.12 88.24,331.02 91.43,331.97 94.58,332.98 97.71,334.06 100.81,335.2 103.87,336.42 106.88,337.72 109.85,339.09 112.76,340.55 115.62,342.11 118.41,343.76 121.13,345.5 123.78,347.35 126.35,349.31 128.84,351.39 131.25,353.57 133.57,355.86 135.81,358.24 137.98,360.71 140.07,363.26 142.09,365.89 144.04,368.58 145.92,371.33 147.74,374.12 149.5,376.96 151.19,379.83 152.84,382.73 154.42,385.64 155.96,388.57 157.44,391.5 158.88,394.42 160.27,397.33 161.62,400.24 162.92,403.14 164.18,406.06 165.38,408.98 166.55,411.91 167.66,414.87 168.73,417.85 169.74,420.86 170.71,423.9 171.63,426.99 172.5,430.12 173.32,433.29 174.09,436.53 174.81,439.82 175.47,443.18 176.09,446.61 176.66,450.1 177.21,453.63 177.77,457.19 178.36,460.74 179.01,464.26 179.75,467.72 180.6,471.11 181.59,474.4 182.75,477.56 184.09,480.57 185.66,483.41 187.46,486.03 189.43,488.14 191.42,489.24 193.3,488.9 195.05,487.22 196.66,484.53 198.15,481.12 199.52,477.31 200.78,473.41 201.94,469.65 203.01,466.05 204,462.59 204.93,459.26 205.81,456.04 206.65,452.9 207.46,449.83 208.26,446.81 209.07,443.82 209.88,440.83 210.72,437.84 211.6,434.83 212.51,431.81 213.46,428.77 214.44,425.73 215.47,422.68 216.54,419.62 217.65,416.56 218.81,413.5 220.02,410.44 221.28,407.38 222.6,404.34 223.97,401.32 225.41,398.32 226.91,395.35 228.48,392.43 230.12,389.56 231.84,386.74 233.63,383.98 235.51,381.3 237.47,378.69 239.52,376.17 241.66,373.75 243.9,371.42 246.23,369.2 248.66,367.08 251.17,365.05 253.76,363.13 256.43,361.29 259.17,359.55 261.97,357.89 264.84,356.31 267.76,354.81 270.73,353.38 273.75,352.03 276.81,350.74 279.9,349.52 283.02,348.37 286.16,347.27 289.33,346.22 292.5,345.23 295.69,344.29 298.88,343.39 302.07,342.54 305.25,341.72 308.43,340.94 311.58,340.19 314.71,339.47 317.82,338.77 320.89,338.1" fill="none" stroke="#0000ff" stroke-width="2.6" stroke-linejoin="round" stroke-linecap="butt" stroke-dasharray="10.5 7"/>
</g>
<rect x="50.8" y="315.3" width="271.4" height="213" fill="none" stroke="#4a4a4a" stroke-width="1.5"/>
<line x1="46.3" y1="315.3" x2="50.8" y2="315.3" stroke="#4a4a4a" stroke-width="1.4" />
<text x="44.6" y="318.7" font-size="13.5" font-weight="bold" font-style="normal" text-anchor="end" fill="#000" stroke="#000" stroke-width="0.8" >0</text>
<line x1="46.3" y1="341.93" x2="50.8" y2="341.93" stroke="#4a4a4a" stroke-width="1.4" />
<text x="44.6" y="345.32" font-size="13.5" font-weight="bold" font-style="normal" text-anchor="end" fill="#000" stroke="#000" stroke-width="0.8" >-2</text>
<line x1="46.3" y1="368.55" x2="50.8" y2="368.55" stroke="#4a4a4a" stroke-width="1.4" />
<text x="44.6" y="371.95" font-size="13.5" font-weight="bold" font-style="normal" text-anchor="end" fill="#000" stroke="#000" stroke-width="0.8" >-4</text>
<line x1="46.3" y1="395.17" x2="50.8" y2="395.17" stroke="#4a4a4a" stroke-width="1.4" />
<text x="44.6" y="398.57" font-size="13.5" font-weight="bold" font-style="normal" text-anchor="end" fill="#000" stroke="#000" stroke-width="0.8" >-6</text>
<line x1="46.3" y1="421.8" x2="50.8" y2="421.8" stroke="#4a4a4a" stroke-width="1.4" />
<text x="44.6" y="425.2" font-size="13.5" font-weight="bold" font-style="normal" text-anchor="end" fill="#000" stroke="#000" stroke-width="0.8" >-8</text>
<line x1="46.3" y1="448.42" x2="50.8" y2="448.42" stroke="#4a4a4a" stroke-width="1.4" />
<text x="44.6" y="451.82" font-size="13.5" font-weight="bold" font-style="normal" text-anchor="end" fill="#000" stroke="#000" stroke-width="0.8" >-10</text>
<line x1="46.3" y1="475.05" x2="50.8" y2="475.05" stroke="#4a4a4a" stroke-width="1.4" />
<text x="44.6" y="478.45" font-size="13.5" font-weight="bold" font-style="normal" text-anchor="end" fill="#000" stroke="#000" stroke-width="0.8" >-12</text>
<line x1="46.3" y1="501.67" x2="50.8" y2="501.67" stroke="#4a4a4a" stroke-width="1.4" />
<text x="44.6" y="505.07" font-size="13.5" font-weight="bold" font-style="normal" text-anchor="end" fill="#000" stroke="#000" stroke-width="0.8" >-14</text>
<line x1="46.3" y1="528.3" x2="50.8" y2="528.3" stroke="#4a4a4a" stroke-width="1.4" />
<text x="44.6" y="531.7" font-size="13.5" font-weight="bold" font-style="normal" text-anchor="end" fill="#000" stroke="#000" stroke-width="0.8" >-16</text>
<line x1="50.8" y1="528.3" x2="50.8" y2="532.6" stroke="#4a4a4a" stroke-width="1.4" />
<text x="50.8" y="545.9" font-size="13.5" font-weight="bold" font-style="normal" text-anchor="middle" fill="#000" letter-spacing="-0.3" stroke="#000" stroke-width="0.8" >0.80</text>
<line x1="105.08" y1="528.3" x2="105.08" y2="532.6" stroke="#4a4a4a" stroke-width="1.4" />
<text x="105.08" y="545.9" font-size="13.5" font-weight="bold" font-style="normal" text-anchor="middle" fill="#000" letter-spacing="-0.3" stroke="#000" stroke-width="0.8" >0.84</text>
<line x1="159.36" y1="528.3" x2="159.36" y2="532.6" stroke="#4a4a4a" stroke-width="1.4" />
<text x="159.36" y="545.9" font-size="13.5" font-weight="bold" font-style="normal" text-anchor="middle" fill="#000" letter-spacing="-0.3" stroke="#000" stroke-width="0.8" >0.88</text>
<line x1="213.64" y1="528.3" x2="213.64" y2="532.6" stroke="#4a4a4a" stroke-width="1.4" />
<text x="213.64" y="545.9" font-size="13.5" font-weight="bold" font-style="normal" text-anchor="middle" fill="#000" letter-spacing="-0.3" stroke="#000" stroke-width="0.8" >0.92</text>
<line x1="267.92" y1="528.3" x2="267.92" y2="532.6" stroke="#4a4a4a" stroke-width="1.4" />
<text x="267.92" y="545.9" font-size="13.5" font-weight="bold" font-style="normal" text-anchor="middle" fill="#000" letter-spacing="-0.3" stroke="#000" stroke-width="0.8" >0.96</text>
<line x1="322.2" y1="528.3" x2="322.2" y2="532.6" stroke="#4a4a4a" stroke-width="1.4" />
<text x="322.2" y="545.9" font-size="13.5" font-weight="bold" font-style="normal" text-anchor="middle" fill="#000" letter-spacing="-0.3" stroke="#000" stroke-width="0.8" >1.00</text>
<text x="0" y="0" transform="translate(16.8 420.4) rotate(-90) scale(0.92 1)" font-size="17.6" font-weight="bold" text-anchor="middle" stroke="#000" stroke-width="0.35" textLength="232.72" lengthAdjust="spacing">Reflection&#160;Coefficient&#160;(dB)</text>
<text x="0" y="0" transform="translate(116.3 568) scale(0.92 1)" font-size="18" font-weight="bold" text-anchor="start" stroke="#000" stroke-width="0.35" textLength="149.13" lengthAdjust="spacing">Frequency (GHz)</text>
<rect x="218.2" y="477.5" width="101.4" height="46.6" fill="#fff" stroke="#555" stroke-width="1.4"/>
<line x1="220.1" y1="486.1" x2="247.6" y2="486.1" stroke="#000" stroke-width="2.5" stroke-dasharray="2.4 2.8"/>
<text x="250.3" y="489.8" font-size="14.5" font-weight="bold" font-style="italic" stroke="#000" stroke-width="0.45" textLength="63.7" lengthAdjust="spacing">L<tspan font-size="11.5" dy="3.2" dx="-1.5" font-style="normal">2</tspan><tspan dy="-3.2"></tspan><tspan font-style="normal" font-weight="normal" stroke-width="0.3">= </tspan><tspan font-weight="normal" font-style="normal" stroke-width="0.35">3</tspan><tspan font-style="normal"> mm</tspan></text>
<line x1="220.1" y1="500.9" x2="247.6" y2="500.9" stroke="#ff0000" stroke-width="2.6" />
<text x="250.3" y="504.6" font-size="14.5" font-weight="bold" font-style="italic" stroke="#000" stroke-width="0.45" textLength="63.7" lengthAdjust="spacing">L<tspan font-size="11.5" dy="3.2" dx="-1.5" font-style="normal">2</tspan><tspan dy="-3.2"></tspan><tspan font-style="normal" font-weight="normal" stroke-width="0.3">= </tspan><tspan font-weight="normal" font-style="normal" stroke-width="0.35">4</tspan><tspan font-style="normal"> mm</tspan></text>
<line x1="220.1" y1="515.6" x2="247.6" y2="515.6" stroke="#0000ff" stroke-width="2.6" stroke-dasharray="10.2 8"/>
<text x="250.3" y="519.3" font-size="14.5" font-weight="bold" font-style="italic" stroke="#000" stroke-width="0.45" textLength="63.7" lengthAdjust="spacing">L<tspan font-size="11.5" dy="3.2" dx="-1.5" font-style="normal">2</tspan><tspan dy="-3.2"></tspan><tspan font-style="normal" font-weight="normal" stroke-width="0.3">= </tspan><tspan font-weight="normal" font-style="normal" stroke-width="0.35">5</tspan><tspan font-style="normal"> mm</tspan></text>
<path d="M61.3,484.3 L100.8,500.19 L105.5,500.19 L145,484.3 L145,517.9 L115.4,512.07 L115.4,517.3 L90.7,517.3 L90.7,512.07 L61.3,517.9 Z" fill="#00ffff" stroke="#60d0d0" stroke-width="0.5"/>
<path d="M100.9,502.71 L105.4,502.71 L110.3,507.94 L110.3,513.37 L96,513.37 L96,507.94 Z" fill="#fff" stroke="#fff" stroke-width="0.8" stroke-linejoin="round"/>
<rect x="102.5" y="513.88" width="1.3" height="2.5" fill="#a01818"/>
<line x1="101.95" y1="489.5" x2="101.95" y2="500.1" stroke="#222" stroke-width="1.0" />
<line x1="106.35" y1="489.5" x2="106.35" y2="500.1" stroke="#222" stroke-width="1.0" />
<line x1="91.15" y1="495.1" x2="101.15" y2="495.1" stroke="#000" stroke-width="1.2" />
<line x1="107.15" y1="495.1" x2="117.15" y2="495.1" stroke="#000" stroke-width="1.2" />
<path d="M101.55,495.1 L94.05,498.9 L94.05,491.3 Z" fill="#000"/>
<path d="M106.75,495.1 L114.25,491.3 L114.25,498.9 Z" fill="#000"/>
<text x="97.65" y="480.1" font-size="18.5" font-style="italic">L<tspan font-size="15" font-weight="bold" font-style="normal" dy="3.5" dx="-0.8">2</tspan></text>
<line x1="393.2" y1="366.3" x2="666.3" y2="366.3" stroke="#98aaea" stroke-width="1.0" stroke-dasharray="1.3 0.7"/>
<line x1="393.2" y1="518.3" x2="666.3" y2="518.3" stroke="#98aaea" stroke-width="1.0" stroke-dasharray="1.3 0.7"/>
<path d="M393.2,408.06 397.83,407.23 402.46,406.38 407.09,405.53 411.72,404.66 416.34,403.78 420.97,402.9 425.6,402 430.23,401.09 434.86,400.17 439.49,399.24 444.12,398.3 448.75,397.34 453.37,396.38 458,395.41 462.63,394.42 467.26,393.43 471.89,392.42 476.52,391.4 481.15,390.38 485.78,389.34 490.41,388.29 495.03,387.23 499.66,386.16 504.29,385.08 508.92,383.99 513.55,382.88 518.18,381.77 522.81,380.64 527.44,379.51 532.06,378.36 536.69,377.21 541.32,376.04 545.95,374.86 550.58,373.67 555.21,372.47 559.84,371.26 564.47,370.04 569.09,368.81 573.72,367.57 578.35,366.31 582.98,365.05 587.61,363.78 592.24,362.49 596.87,361.19 601.5,359.89 606.13,358.57 610.75,357.24 615.38,355.9 620.01,354.55 624.64,353.19 629.27,351.82 633.9,350.43 638.53,349.04 643.16,347.64 647.78,346.22 652.41,344.8 657.04,343.36 661.67,341.91 666.3,340.46" fill="none" stroke="#000" stroke-width="2.5" stroke-linejoin="round" stroke-linecap="butt" stroke-dasharray="2.4 2.5"/>
<path d="M393.2,404.42 397.83,403.5 402.46,402.58 407.09,401.64 411.72,400.69 416.34,399.73 420.97,398.76 425.6,397.78 430.23,396.78 434.86,395.78 439.49,394.77 444.12,393.74 448.75,392.71 453.37,391.66 458,390.61 462.63,389.54 467.26,388.46 471.89,387.37 476.52,386.27 481.15,385.16 485.78,384.04 490.41,382.91 495.03,381.77 499.66,380.62 504.29,379.45 508.92,378.28 513.55,377.09 518.18,375.9 522.81,374.69 527.44,373.47 532.06,372.25 536.69,371.01 541.32,369.76 545.95,368.5 550.58,367.23 555.21,365.95 559.84,364.65 564.47,363.35 569.09,362.04 573.72,360.71 578.35,359.38 582.98,358.03 587.61,356.67 592.24,355.31 596.87,353.93 601.5,352.54 606.13,351.14 610.75,349.73 615.38,348.31 620.01,346.88 624.64,345.44 629.27,343.98 633.9,342.52 638.53,341.05 643.16,339.56 647.78,338.07 652.41,336.56 657.04,335.04 661.67,333.51 666.3,331.98" fill="none" stroke="#ff0000" stroke-width="2.5" stroke-linejoin="round" stroke-linecap="butt" stroke-dasharray="2.4 2.5"/>
<path d="M393.2,400.61 397.83,399.64 402.46,398.67 407.09,397.68 411.72,396.67 416.34,395.66 420.97,394.64 425.6,393.6 430.23,392.56 434.86,391.5 439.49,390.43 444.12,389.35 448.75,388.26 453.37,387.15 458,386.04 462.63,384.91 467.26,383.78 471.89,382.63 476.52,381.47 481.15,380.3 485.78,379.11 490.41,377.92 495.03,376.71 499.66,375.5 504.29,374.27 508.92,373.03 513.55,371.78 518.18,370.52 522.81,369.24 527.44,367.96 532.06,366.66 536.69,365.35 541.32,364.04 545.95,362.7 550.58,361.36 555.21,360.01 559.84,358.65 564.47,357.27 569.09,355.88 573.72,354.48 578.35,353.07 582.98,351.65 587.61,350.22 592.24,348.78 596.87,347.32 601.5,345.85 606.13,344.37 610.75,342.89 615.38,341.38 620.01,339.87 624.64,338.35 629.27,336.81 633.9,335.27 638.53,333.71 643.16,332.14 647.78,330.56 652.41,328.97 657.04,327.37 661.67,325.75 666.3,324.12" fill="none" stroke="#0000ff" stroke-width="2.5" stroke-linejoin="round" stroke-linecap="butt" stroke-dasharray="2.4 2.5"/>
<path d="M393.2,524.53 397.83,524.4 402.46,524.27 407.09,524.14 411.72,524 416.34,523.86 420.97,523.71 425.6,523.55 430.23,523.39 434.86,523.22 439.49,523.04 444.12,522.86 448.75,522.67 453.37,522.47 458,522.27 462.63,522.05 467.26,521.83 471.89,521.6 476.52,521.36 481.15,521.11 485.78,520.85 490.41,520.58 495.03,520.3 499.66,520 504.29,519.7 508.92,519.38 513.55,519.05 518.18,518.71 522.81,518.36 527.44,517.99 532.06,517.6 536.69,517.2 541.32,516.79 545.95,516.35 550.58,515.9 555.21,515.43 559.84,514.95 564.47,514.44 569.09,513.91 573.72,513.37 578.35,512.8 582.98,512.21 587.61,511.59 592.24,510.95 596.87,510.28 601.5,509.59 606.13,508.87 610.75,508.12 615.38,507.34 620.01,506.53 624.64,505.69 629.27,504.82 633.9,503.9 638.53,502.96 643.16,501.97 647.78,500.95 652.41,499.88 657.04,498.77 661.67,497.62 666.3,496.42" fill="none" stroke="#000" stroke-width="2.7" stroke-linejoin="round" stroke-linecap="butt"/>
<path d="M393.2,524.02 397.83,523.89 402.46,523.76 407.09,523.62 411.72,523.47 416.34,523.31 420.97,523.15 425.6,522.99 430.23,522.81 434.86,522.63 439.49,522.44 444.12,522.25 448.75,522.04 453.37,521.83 458,521.61 462.63,521.38 467.26,521.14 471.89,520.89 476.52,520.62 481.15,520.35 485.78,520.07 490.41,519.77 495.03,519.47 499.66,519.15 504.29,518.81 508.92,518.46 513.55,518.1 518.18,517.72 522.81,517.33 527.44,516.92 532.06,516.5 536.69,516.05 541.32,515.59 545.95,515.11 550.58,514.61 555.21,514.08 559.84,513.54 564.47,512.97 569.09,512.38 573.72,511.76 578.35,511.12 582.98,510.45 587.61,509.76 592.24,509.03 596.87,508.28 601.5,507.49 606.13,506.67 610.75,505.82 615.38,504.93 620.01,504.01 624.64,503.04 629.27,502.04 633.9,500.99 638.53,499.9 643.16,498.77 647.78,497.58 652.41,496.35 657.04,495.07 661.67,493.73 666.3,492.34" fill="none" stroke="#ff0000" stroke-width="2.7" stroke-linejoin="round" stroke-linecap="butt"/>
<path d="M393.2,523.36 397.83,523.24 402.46,523.11 407.09,522.98 411.72,522.84 416.34,522.69 420.97,522.54 425.6,522.38 430.23,522.21 434.86,522.04 439.49,521.85 444.12,521.66 448.75,521.46 453.37,521.25 458,521.03 462.63,520.79 467.26,520.55 471.89,520.3 476.52,520.03 481.15,519.75 485.78,519.46 490.41,519.16 495.03,518.84 499.66,518.5 504.29,518.15 508.92,517.78 513.55,517.4 518.18,517 522.81,516.58 527.44,516.13 532.06,515.67 536.69,515.19 541.32,514.68 545.95,514.15 550.58,513.59 555.21,513.01 559.84,512.4 564.47,511.76 569.09,511.09 573.72,510.39 578.35,509.65 582.98,508.88 587.61,508.08 592.24,507.24 596.87,506.35 601.5,505.43 606.13,504.46 610.75,503.44 615.38,502.38 620.01,501.27 624.64,500.1 629.27,498.88 633.9,497.6 638.53,496.27 643.16,494.86 647.78,493.4 652.41,491.86 657.04,490.25 661.67,488.56 666.3,486.8" fill="none" stroke="#0000ff" stroke-width="2.7" stroke-linejoin="round" stroke-linecap="butt"/>
<rect x="393.2" y="315.2" width="273.1" height="213.1" fill="none" stroke="#4a4a4a" stroke-width="1.5"/>
<line x1="388.7" y1="528.3" x2="393.2" y2="528.3" stroke="#4a4a4a" stroke-width="1.4" />
<line x1="666.3" y1="528.3" x2="670.8" y2="528.3" stroke="#4a4a4a" stroke-width="1.4" />
<text x="387.4" y="531.3" font-size="13.5" font-weight="bold" font-style="normal" text-anchor="end" fill="#000" letter-spacing="-0.1" stroke="#000" stroke-width="0.8" >0</text>
<text x="673.4" y="531.3" font-size="13.5" font-weight="bold" font-style="normal" text-anchor="start" fill="#000" letter-spacing="-0.1" stroke="#000" stroke-width="0.8" >0</text>
<line x1="388.7" y1="485.68" x2="393.2" y2="485.68" stroke="#4a4a4a" stroke-width="1.4" />
<line x1="666.3" y1="485.68" x2="670.8" y2="485.68" stroke="#4a4a4a" stroke-width="1.4" />
<text x="387.4" y="488.68" font-size="13.5" font-weight="bold" font-style="normal" text-anchor="end" fill="#000" letter-spacing="-0.1" stroke="#000" stroke-width="0.8" >50</text>
<text x="673.4" y="488.68" font-size="13.5" font-weight="bold" font-style="normal" text-anchor="start" fill="#000" letter-spacing="-0.1" stroke="#000" stroke-width="0.8" >50</text>
<line x1="388.7" y1="443.06" x2="393.2" y2="443.06" stroke="#4a4a4a" stroke-width="1.4" />
<line x1="666.3" y1="443.06" x2="670.8" y2="443.06" stroke="#4a4a4a" stroke-width="1.4" />
<text x="387.4" y="446.06" font-size="13.5" font-weight="bold" font-style="normal" text-anchor="end" fill="#000" letter-spacing="-0.1" stroke="#000" stroke-width="0.8" >100</text>
<text x="673.4" y="446.06" font-size="13.5" font-weight="bold" font-style="normal" text-anchor="start" fill="#000" letter-spacing="-0.1" stroke="#000" stroke-width="0.8" >100</text>
<line x1="388.7" y1="400.44" x2="393.2" y2="400.44" stroke="#4a4a4a" stroke-width="1.4" />
<line x1="666.3" y1="400.44" x2="670.8" y2="400.44" stroke="#4a4a4a" stroke-width="1.4" />
<text x="387.4" y="403.44" font-size="13.5" font-weight="bold" font-style="normal" text-anchor="end" fill="#000" letter-spacing="-0.1" stroke="#000" stroke-width="0.8" >150</text>
<text x="673.4" y="403.44" font-size="13.5" font-weight="bold" font-style="normal" text-anchor="start" fill="#000" letter-spacing="-0.1" stroke="#000" stroke-width="0.8" >150</text>
<line x1="388.7" y1="357.82" x2="393.2" y2="357.82" stroke="#4a4a4a" stroke-width="1.4" />
<line x1="666.3" y1="357.82" x2="670.8" y2="357.82" stroke="#4a4a4a" stroke-width="1.4" />
<text x="387.4" y="360.82" font-size="13.5" font-weight="bold" font-style="normal" text-anchor="end" fill="#000" letter-spacing="-0.1" stroke="#000" stroke-width="0.8" >200</text>
<text x="673.4" y="360.82" font-size="13.5" font-weight="bold" font-style="normal" text-anchor="start" fill="#000" letter-spacing="-0.1" stroke="#000" stroke-width="0.8" >200</text>
<line x1="388.7" y1="315.2" x2="393.2" y2="315.2" stroke="#4a4a4a" stroke-width="1.4" />
<line x1="666.3" y1="315.2" x2="670.8" y2="315.2" stroke="#4a4a4a" stroke-width="1.4" />
<text x="387.4" y="318.2" font-size="13.5" font-weight="bold" font-style="normal" text-anchor="end" fill="#000" letter-spacing="-0.1" stroke="#000" stroke-width="0.8" >250</text>
<text x="673.4" y="318.2" font-size="13.5" font-weight="bold" font-style="normal" text-anchor="start" fill="#000" letter-spacing="-0.1" stroke="#000" stroke-width="0.8" >250</text>
<line x1="393.2" y1="528.3" x2="393.2" y2="532.6" stroke="#4a4a4a" stroke-width="1.4" />
<text x="393.2" y="545.9" font-size="13.5" font-weight="bold" font-style="normal" text-anchor="middle" fill="#000" letter-spacing="-0.3" stroke="#000" stroke-width="0.8" >0.80</text>
<line x1="447.82" y1="528.3" x2="447.82" y2="532.6" stroke="#4a4a4a" stroke-width="1.4" />
<text x="447.82" y="545.9" font-size="13.5" font-weight="bold" font-style="normal" text-anchor="middle" fill="#000" letter-spacing="-0.3" stroke="#000" stroke-width="0.8" >0.84</text>
<line x1="502.44" y1="528.3" x2="502.44" y2="532.6" stroke="#4a4a4a" stroke-width="1.4" />
<text x="502.44" y="545.9" font-size="13.5" font-weight="bold" font-style="normal" text-anchor="middle" fill="#000" letter-spacing="-0.3" stroke="#000" stroke-width="0.8" >0.88</text>
<line x1="557.06" y1="528.3" x2="557.06" y2="532.6" stroke="#4a4a4a" stroke-width="1.4" />
<text x="557.06" y="545.9" font-size="13.5" font-weight="bold" font-style="normal" text-anchor="middle" fill="#000" letter-spacing="-0.3" stroke="#000" stroke-width="0.8" >0.92</text>
<line x1="611.68" y1="528.3" x2="611.68" y2="532.6" stroke="#4a4a4a" stroke-width="1.4" />
<text x="611.68" y="545.9" font-size="13.5" font-weight="bold" font-style="normal" text-anchor="middle" fill="#000" letter-spacing="-0.3" stroke="#000" stroke-width="0.8" >0.96</text>
<line x1="666.3" y1="528.3" x2="666.3" y2="532.6" stroke="#4a4a4a" stroke-width="1.4" />
<text x="666.3" y="545.9" font-size="13.5" font-weight="bold" font-style="normal" text-anchor="middle" fill="#000" letter-spacing="-0.3" stroke="#000" stroke-width="0.8" >1.00</text>
<text x="0" y="0" transform="translate(359.75 416.1) rotate(-90) scale(0.92 1)" font-size="17.6" font-weight="bold" text-anchor="middle" stroke="#000" stroke-width="0.35" textLength="125.54" lengthAdjust="spacing">Resistance&#160;(&#937;)</text>
<text x="0" y="0" transform="translate(701.95 413.1) rotate(90) scale(0.92 1)" font-size="17.6" font-weight="bold" text-anchor="middle" stroke="#000" stroke-width="0.35" textLength="123.8" lengthAdjust="spacing">Reactance&#160;(&#937;)</text>
<text x="0" y="0" transform="translate(472.5 571.2) scale(0.92 1)" font-size="18" font-weight="bold" text-anchor="start" stroke="#000" stroke-width="0.35" textLength="150" lengthAdjust="spacing">Frequency (GHz)</text>
<text x="633.9" y="363.1" font-size="14.5" font-weight="bold" fill="#0c6a86" stroke="#2aa8c8" stroke-width="0.35" textLength="27.5" lengthAdjust="spacingAndGlyphs">191<tspan font-style="italic" font-weight="normal">j</tspan></text>
<text x="639.5" y="516.8" font-size="14.5" font-weight="bold" fill="#0c6a86" stroke="#2aa8c8" stroke-width="0.35" textLength="14.3" lengthAdjust="spacingAndGlyphs">10</text>
<ellipse cx="538.2" cy="371.7" rx="8.7" ry="16.3" fill="none" stroke="#111" stroke-width="1.2"/>
<line x1="538.2" y1="355.4" x2="553" y2="355.4" stroke="#000" stroke-width="1.6" />
<path d="M560,355.4 L550,351.8 L550,359 Z" fill="#000"/>
<ellipse cx="568" cy="507.7" rx="8.9" ry="16" fill="none" stroke="#111" stroke-width="1.2"/>
<line x1="568" y1="491.7" x2="553.1" y2="491.7" stroke="#000" stroke-width="1.6" />
<path d="M546.1,491.7 L556.1,488.1 L556.1,495.3 Z" fill="#000"/>
<rect x="554.5" y="429.5" width="101.3" height="46.1" fill="#fff" stroke="#555" stroke-width="1.4"/>
<line x1="556.6" y1="435.6" x2="580.2" y2="435.6" stroke="#000" stroke-width="2.3" />
<line x1="556.6" y1="440.7" x2="580.2" y2="440.7" stroke="#000" stroke-width="2.5" stroke-dasharray="2.4 2.8"/>
<text x="587.2" y="440.6" font-size="14.5" font-weight="bold" font-style="italic" stroke="#000" stroke-width="0.45" textLength="63.9" lengthAdjust="spacing">L<tspan font-size="11.5" dy="3.2" dx="-1.5" font-style="normal">2</tspan><tspan dy="-3.2"></tspan><tspan font-style="normal" font-weight="normal" stroke-width="0.3">= </tspan><tspan font-weight="normal" font-style="normal" stroke-width="0.35">3</tspan><tspan font-style="normal"> mm</tspan></text>
<line x1="556.6" y1="450.8" x2="580.2" y2="450.8" stroke="#ff0000" stroke-width="2.3" />
<line x1="556.6" y1="455.9" x2="580.2" y2="455.9" stroke="#ff0000" stroke-width="2.5" stroke-dasharray="2.4 2.8"/>
<text x="587.2" y="455.8" font-size="14.5" font-weight="bold" font-style="italic" stroke="#000" stroke-width="0.45" textLength="63.9" lengthAdjust="spacing">L<tspan font-size="11.5" dy="3.2" dx="-1.5" font-style="normal">2</tspan><tspan dy="-3.2"></tspan><tspan font-style="normal" font-weight="normal" stroke-width="0.3">= </tspan><tspan font-weight="normal" font-style="normal" stroke-width="0.35">4</tspan><tspan font-style="normal"> mm</tspan></text>
<line x1="556.6" y1="465.7" x2="580.2" y2="465.7" stroke="#0000ff" stroke-width="2.3" />
<line x1="556.6" y1="470.8" x2="580.2" y2="470.8" stroke="#0000ff" stroke-width="2.5" stroke-dasharray="2.4 2.8"/>
<text x="587.2" y="470.7" font-size="14.5" font-weight="bold" font-style="italic" stroke="#000" stroke-width="0.45" textLength="63.9" lengthAdjust="spacing">L<tspan font-size="11.5" dy="3.2" dx="-1.5" font-style="normal">2</tspan><tspan dy="-3.2"></tspan><tspan font-style="normal" font-weight="normal" stroke-width="0.3">= </tspan><tspan font-weight="normal" font-style="normal" stroke-width="0.35">5</tspan><tspan font-style="normal"> mm</tspan></text>
<path d="M403.7,471.5 L443.2,487.39 L447.9,487.39 L487.4,471.5 L487.4,505.1 L457.8,499.27 L457.8,504.5 L433.1,504.5 L433.1,499.27 L403.7,505.1 Z" fill="#00ffff" stroke="#60d0d0" stroke-width="0.5"/>
<path d="M443.3,489.91 L447.8,489.91 L452.7,495.14 L452.7,500.57 L438.4,500.57 L438.4,495.14 Z" fill="#fff" stroke="#fff" stroke-width="0.8" stroke-linejoin="round"/>
<rect x="444.9" y="501.08" width="1.3" height="2.5" fill="#a01818"/>
<line x1="444.35" y1="476.7" x2="444.35" y2="487.3" stroke="#222" stroke-width="1.0" />
<line x1="448.75" y1="476.7" x2="448.75" y2="487.3" stroke="#222" stroke-width="1.0" />
<line x1="433.55" y1="482.3" x2="443.55" y2="482.3" stroke="#000" stroke-width="1.2" />
<line x1="449.55" y1="482.3" x2="459.55" y2="482.3" stroke="#000" stroke-width="1.2" />
<path d="M443.95,482.3 L436.45,486.1 L436.45,478.5 Z" fill="#000"/>
<path d="M449.15,482.3 L456.65,478.5 L456.65,486.1 Z" fill="#000"/>
<text x="440.05" y="467.3" font-size="18.5" font-style="italic">L<tspan font-size="15" font-weight="bold" font-style="normal" dy="3.5" dx="-0.8">2</tspan></text>
<text x="338.5" y="596.6" font-size="23.5" font-weight="normal" font-style="normal" text-anchor="start" fill="#000" textLength="28" lengthAdjust="spacingAndGlyphs">(b)</text>
<line x1="48.6" y1="753" x2="325.2" y2="753" stroke="#98aaea" stroke-width="1.0" stroke-dasharray="1.3 0.7"/>
<clipPath id="cc"><rect x="48.9" y="617.2" width="276.3" height="218.8"/></clipPath><g clip-path="url(#cc)">
<path d="M48.9,626.03 51.92,626.03 54.97,626.07 58.03,626.14 61.11,626.25 64.2,626.39 67.3,626.58 70.41,626.8 73.53,627.07 76.65,627.38 79.78,627.73 82.9,628.13 86.02,628.58 89.13,629.07 92.24,629.61 95.34,630.21 98.42,630.85 101.49,631.54 104.54,632.29 107.58,633.1 110.59,633.95 113.58,634.87 116.54,635.84 119.48,636.88 122.38,637.97 125.25,639.13 128.09,640.34 130.89,641.63 133.65,642.97 136.36,644.39 139.04,645.87 141.66,647.42 144.24,649.04 146.76,650.73 149.24,652.5 151.65,654.33 154.01,656.25 156.3,658.24 158.54,660.3 160.71,662.44 162.81,664.67 164.84,666.97 166.8,669.35 168.7,671.8 170.53,674.32 172.3,676.9 174.02,679.54 175.67,682.23 177.28,684.97 178.83,687.75 180.33,690.57 181.78,693.42 183.19,696.3 184.56,699.2 185.89,702.12 187.18,705.05 188.43,707.98 189.66,710.93 190.85,713.87 192.01,716.8 193.15,719.72 194.27,722.62 195.36,725.5 196.44,728.35 197.5,731.18 198.55,733.97 199.59,736.75 200.62,739.52 201.65,742.3 202.68,745.08 203.7,747.89 204.74,750.73 205.78,753.61 206.84,756.54 207.91,759.53 208.99,762.59 210.1,765.72 211.23,768.95 212.39,772.28 213.6,775.62 214.95,778.61 216.55,780.81 218.49,781.81 220.8,781.38 223.24,779.87 225.56,777.73 227.58,775.28 229.31,772.61 230.81,769.74 232.1,766.71 233.24,763.58 234.26,760.37 235.2,757.13 236.1,753.9 237,750.71 237.91,747.56 238.83,744.44 239.76,741.37 240.71,738.34 241.69,735.35 242.69,732.39 243.72,729.47 244.79,726.59 245.9,723.74 247.05,720.92 248.25,718.13 249.5,715.37 250.81,712.64 252.18,709.94 253.61,707.27 255.1,704.63 256.67,702 258.31,699.41 260.02,696.85 261.8,694.33 263.64,691.84 265.55,689.4 267.52,687 269.55,684.65 271.65,682.35 273.81,680.1 276.03,677.92 278.31,675.79 280.64,673.72 283.03,671.72 285.48,669.8 287.98,667.94 290.53,666.16 293.14,664.47 295.79,662.85 298.5,661.32 301.26,659.88 304.06,658.53 306.91,657.27 309.8,656.12 312.74,655.06 315.72,654.11 318.75,653.27 321.81,652.54 324.91,651.92" fill="none" stroke="#000" stroke-width="2.5" stroke-linejoin="round" stroke-linecap="butt" stroke-dasharray="2.2 2.4"/>
<path d="M48.89,626.64 52,626.54 55.12,626.5 58.25,626.51 61.38,626.59 64.53,626.73 67.68,626.93 70.83,627.19 73.98,627.51 77.13,627.9 80.27,628.34 83.41,628.85 86.53,629.42 89.65,630.05 92.75,630.74 95.84,631.49 98.91,632.31 101.95,633.19 104.98,634.13 107.98,635.13 110.95,636.2 113.9,637.33 116.81,638.52 119.69,639.78 122.53,641.1 125.34,642.48 128.1,643.93 130.83,645.44 133.51,647.01 136.14,648.65 138.72,650.36 141.25,652.12 143.73,653.96 146.16,655.86 148.52,657.82 150.83,659.84 153.07,661.94 155.25,664.1 157.36,666.32 159.4,668.61 161.37,670.96 163.27,673.38 165.09,675.87 166.84,678.42 168.52,681.03 170.14,683.7 171.68,686.42 173.17,689.18 174.6,692 175.97,694.86 177.29,697.75 178.56,700.68 179.78,703.65 180.96,706.64 182.1,709.66 183.2,712.7 184.27,715.76 185.3,718.84 186.31,721.93 187.29,725.02 188.24,728.12 189.18,731.23 190.09,734.33 191,737.42 191.89,740.51 192.77,743.59 193.65,746.65 194.53,749.69 195.41,752.71 196.29,755.7 197.18,758.67 198.11,761.6 199.11,764.51 200.2,767.38 201.4,770.22 202.75,773.03 204.27,775.8 205.98,778.53 207.91,781.18 210.05,783.17 212.38,783.58 214.75,782.31 216.89,780.17 218.67,777.66 220.14,774.84 221.36,771.79 222.37,768.55 223.24,765.19 224.02,761.78 224.76,758.35 225.52,754.99 226.36,751.74 227.28,748.62 228.29,745.61 229.36,742.69 230.49,739.84 231.67,737.04 232.89,734.27 234.13,731.51 235.39,728.74 236.65,725.93 237.92,723.11 239.21,720.26 240.51,717.41 241.85,714.55 243.21,711.7 244.62,708.86 246.07,706.04 247.57,703.25 249.13,700.49 250.75,697.77 252.44,695.11 254.2,692.5 256.05,689.95 257.98,687.48 259.98,685.07 262.07,682.73 264.23,680.47 266.46,678.27 268.75,676.15 271.12,674.1 273.54,672.12 276.03,670.22 278.58,668.39 281.17,666.64 283.83,664.96 286.53,663.36 289.27,661.84 292.07,660.4 294.9,659.03 297.77,657.75 300.68,656.55 303.62,655.42 306.59,654.38 309.59,653.43 312.61,652.55 315.66,651.76 318.72,651.06 321.81,650.44 324.9,649.91" fill="none" stroke="#ff0000" stroke-width="2.6" stroke-linejoin="round" stroke-linecap="butt"/>
<path d="M48.89,627.22 52.06,627.23 55.23,627.31 58.39,627.46 61.56,627.68 64.72,627.96 67.87,628.31 71.01,628.73 74.14,629.22 77.26,629.77 80.36,630.4 83.45,631.09 86.52,631.84 89.57,632.66 92.6,633.55 95.6,634.5 98.58,635.52 101.53,636.61 104.46,637.76 107.35,638.98 110.21,640.26 113.04,641.6 115.83,643.01 118.59,644.48 121.3,646.02 123.98,647.62 126.61,649.29 129.19,651.02 131.73,652.81 134.23,654.66 136.67,656.58 139.06,658.56 141.39,660.6 143.67,662.7 145.9,664.87 148.06,667.1 150.17,669.38 152.21,671.73 154.19,674.14 156.1,676.61 157.94,679.14 159.72,681.73 161.42,684.39 163.05,687.1 164.6,689.87 166.08,692.69 167.49,695.57 168.84,698.49 170.12,701.45 171.35,704.44 172.52,707.45 173.65,710.47 174.73,713.51 175.78,716.55 176.79,719.58 177.77,722.61 178.72,725.62 179.65,728.6 180.57,731.55 181.47,734.46 182.37,737.33 183.26,740.15 184.16,742.93 185.06,745.71 185.97,748.5 186.89,751.34 187.83,754.26 188.8,757.28 189.79,760.44 190.82,763.75 191.89,767.25 192.99,770.97 194.15,774.79 195.4,778.35 196.76,781.28 198.27,783.18 199.96,783.67 201.83,782.59 203.76,780.41 205.63,777.66 207.35,774.79 208.92,771.88 210.34,768.93 211.64,765.94 212.82,762.92 213.91,759.87 214.92,756.8 215.85,753.72 216.74,750.62 217.58,747.52 218.4,744.42 219.2,741.32 220.01,738.22 220.84,735.15 221.7,732.09 222.61,729.05 223.57,726.04 224.62,723.07 225.75,720.13 226.98,717.23 228.29,714.38 229.68,711.56 231.16,708.79 232.7,706.07 234.32,703.38 236,700.74 237.75,698.15 239.56,695.61 241.43,693.11 243.36,690.67 245.35,688.28 247.41,685.94 249.53,683.66 251.71,681.44 253.96,679.28 256.26,677.18 258.64,675.14 261.07,673.16 263.56,671.26 266.12,669.42 268.74,667.65 271.42,665.95 274.15,664.33 276.93,662.78 279.75,661.31 282.62,659.92 285.52,658.6 288.46,657.38 291.42,656.23 294.41,655.18 297.43,654.21 300.46,653.34 303.5,652.55 306.56,651.86 309.62,651.27 312.69,650.78 315.75,650.38 318.81,650.09 321.85,649.9 324.89,649.82" fill="none" stroke="#0000ff" stroke-width="2.6" stroke-linejoin="round" stroke-linecap="butt" stroke-dasharray="10.5 7"/>
</g>
<rect x="48.6" y="621.2" width="276.6" height="210.8" fill="none" stroke="#4a4a4a" stroke-width="1.5"/>
<line x1="44.1" y1="621.2" x2="48.6" y2="621.2" stroke="#4a4a4a" stroke-width="1.4" />
<text x="42.4" y="624.6" font-size="13.5" font-weight="bold" font-style="normal" text-anchor="end" fill="#000" stroke="#000" stroke-width="0.8" >0</text>
<line x1="44.1" y1="647.55" x2="48.6" y2="647.55" stroke="#4a4a4a" stroke-width="1.4" />
<text x="42.4" y="650.95" font-size="13.5" font-weight="bold" font-style="normal" text-anchor="end" fill="#000" stroke="#000" stroke-width="0.8" >-2</text>
<line x1="44.1" y1="673.9" x2="48.6" y2="673.9" stroke="#4a4a4a" stroke-width="1.4" />
<text x="42.4" y="677.3" font-size="13.5" font-weight="bold" font-style="normal" text-anchor="end" fill="#000" stroke="#000" stroke-width="0.8" >-4</text>
<line x1="44.1" y1="700.25" x2="48.6" y2="700.25" stroke="#4a4a4a" stroke-width="1.4" />
<text x="42.4" y="703.65" font-size="13.5" font-weight="bold" font-style="normal" text-anchor="end" fill="#000" stroke="#000" stroke-width="0.8" >-6</text>
<line x1="44.1" y1="726.6" x2="48.6" y2="726.6" stroke="#4a4a4a" stroke-width="1.4" />
<text x="42.4" y="730" font-size="13.5" font-weight="bold" font-style="normal" text-anchor="end" fill="#000" stroke="#000" stroke-width="0.8" >-8</text>
<line x1="44.1" y1="752.95" x2="48.6" y2="752.95" stroke="#4a4a4a" stroke-width="1.4" />
<text x="42.4" y="756.35" font-size="13.5" font-weight="bold" font-style="normal" text-anchor="end" fill="#000" stroke="#000" stroke-width="0.8" >-10</text>
<line x1="44.1" y1="779.3" x2="48.6" y2="779.3" stroke="#4a4a4a" stroke-width="1.4" />
<text x="42.4" y="782.7" font-size="13.5" font-weight="bold" font-style="normal" text-anchor="end" fill="#000" stroke="#000" stroke-width="0.8" >-12</text>
<line x1="44.1" y1="805.65" x2="48.6" y2="805.65" stroke="#4a4a4a" stroke-width="1.4" />
<text x="42.4" y="809.05" font-size="13.5" font-weight="bold" font-style="normal" text-anchor="end" fill="#000" stroke="#000" stroke-width="0.8" >-14</text>
<line x1="44.1" y1="832" x2="48.6" y2="832" stroke="#4a4a4a" stroke-width="1.4" />
<text x="42.4" y="835.4" font-size="13.5" font-weight="bold" font-style="normal" text-anchor="end" fill="#000" stroke="#000" stroke-width="0.8" >-16</text>
<line x1="48.6" y1="832" x2="48.6" y2="836.3" stroke="#4a4a4a" stroke-width="1.4" />
<text x="48.6" y="849.6" font-size="13.5" font-weight="bold" font-style="normal" text-anchor="middle" fill="#000" letter-spacing="-0.3" stroke="#000" stroke-width="0.8" >0.80</text>
<line x1="103.92" y1="832" x2="103.92" y2="836.3" stroke="#4a4a4a" stroke-width="1.4" />
<text x="103.92" y="849.6" font-size="13.5" font-weight="bold" font-style="normal" text-anchor="middle" fill="#000" letter-spacing="-0.3" stroke="#000" stroke-width="0.8" >0.84</text>
<line x1="159.24" y1="832" x2="159.24" y2="836.3" stroke="#4a4a4a" stroke-width="1.4" />
<text x="159.24" y="849.6" font-size="13.5" font-weight="bold" font-style="normal" text-anchor="middle" fill="#000" letter-spacing="-0.3" stroke="#000" stroke-width="0.8" >0.88</text>
<line x1="214.56" y1="832" x2="214.56" y2="836.3" stroke="#4a4a4a" stroke-width="1.4" />
<text x="214.56" y="849.6" font-size="13.5" font-weight="bold" font-style="normal" text-anchor="middle" fill="#000" letter-spacing="-0.3" stroke="#000" stroke-width="0.8" >0.92</text>
<line x1="269.88" y1="832" x2="269.88" y2="836.3" stroke="#4a4a4a" stroke-width="1.4" />
<text x="269.88" y="849.6" font-size="13.5" font-weight="bold" font-style="normal" text-anchor="middle" fill="#000" letter-spacing="-0.3" stroke="#000" stroke-width="0.8" >0.96</text>
<line x1="325.2" y1="832" x2="325.2" y2="836.3" stroke="#4a4a4a" stroke-width="1.4" />
<text x="325.2" y="849.6" font-size="13.5" font-weight="bold" font-style="normal" text-anchor="middle" fill="#000" letter-spacing="-0.3" stroke="#000" stroke-width="0.8" >1.00</text>
<text x="0" y="0" transform="translate(14.25 723.1) rotate(-90) scale(0.92 1)" font-size="17.6" font-weight="bold" text-anchor="middle" stroke="#000" stroke-width="0.35" textLength="236.41" lengthAdjust="spacing">Reflection&#160;Coefficient&#160;(dB)</text>
<text x="0" y="0" transform="translate(115.5 872.5) scale(0.92 1)" font-size="18" font-weight="bold" text-anchor="start" stroke="#000" stroke-width="0.35" textLength="150" lengthAdjust="spacing">Frequency (GHz)</text>
<rect x="215.3" y="784.7" width="109.9" height="45.4" fill="#fff" stroke="#555" stroke-width="1.4"/>
<line x1="217.2" y1="792.8" x2="245.3" y2="792.8" stroke="#000" stroke-width="2.5" stroke-dasharray="2.4 2.8"/>
<text x="247.4" y="795.6" font-size="14.5" font-weight="bold" font-style="italic" stroke="#000" stroke-width="0.45" textLength="73.5" lengthAdjust="spacing">W<tspan font-size="11.5" dy="3.2" dx="-1.5" font-style="normal">1</tspan><tspan dy="-3.2"></tspan><tspan font-style="normal" font-weight="normal" stroke-width="0.3"> = </tspan><tspan font-weight="normal" font-style="normal" stroke-width="0.35">31</tspan><tspan font-style="normal"> mm</tspan></text>
<line x1="217.2" y1="807.4" x2="245.3" y2="807.4" stroke="#ff0000" stroke-width="2.6" />
<text x="247.4" y="810.2" font-size="14.5" font-weight="bold" font-style="italic" stroke="#000" stroke-width="0.45" textLength="73.5" lengthAdjust="spacing">W<tspan font-size="11.5" dy="3.2" dx="-1.5" font-style="normal">1</tspan><tspan dy="-3.2"></tspan><tspan font-style="normal" font-weight="normal" stroke-width="0.3"> = </tspan><tspan font-weight="normal" font-style="normal" stroke-width="0.35">32</tspan><tspan font-style="normal"> mm</tspan></text>
<line x1="217.2" y1="822.3" x2="245.3" y2="822.3" stroke="#0000ff" stroke-width="2.6" stroke-dasharray="10.2 8"/>
<text x="247.4" y="825.1" font-size="14.5" font-weight="bold" font-style="italic" stroke="#000" stroke-width="0.45" textLength="73.5" lengthAdjust="spacing">W<tspan font-size="11.5" dy="3.2" dx="-1.5" font-style="normal">1</tspan><tspan dy="-3.2"></tspan><tspan font-style="normal" font-weight="normal" stroke-width="0.3"> = </tspan><tspan font-weight="normal" font-style="normal" stroke-width="0.35">33</tspan><tspan font-style="normal"> mm</tspan></text>
<path d="M57.7,789.3 L97.2,805.19 L101.9,805.19 L141.4,789.3 L141.4,822.9 L111.8,817.07 L111.8,822.3 L87.1,822.3 L87.1,817.07 L57.7,822.9 Z" fill="#00ffff" stroke="#60d0d0" stroke-width="0.5"/>
<path d="M97.3,807.71 L101.8,807.71 L106.7,812.94 L106.7,818.37 L92.4,818.37 L92.4,812.94 Z" fill="#fff" stroke="#fff" stroke-width="0.8" stroke-linejoin="round"/>
<rect x="98.9" y="818.88" width="1.3" height="2.5" fill="#a01818"/>
<line x1="147.2" y1="790.3" x2="147.2" y2="821.9" stroke="#000" stroke-width="1.3" />
<path d="M147.2,789.9 L150.9,798.4 L143.5,798.4 Z" fill="#000"/>
<path d="M147.2,822.3 L143.5,813.8 L150.9,813.8 Z" fill="#000"/>
<line x1="141.7" y1="789.3" x2="152.7" y2="789.3" stroke="#222" stroke-width="1.1" />
<line x1="141.7" y1="822.9" x2="152.7" y2="822.9" stroke="#222" stroke-width="1.1" />
<text x="155.2" y="812.8" font-size="18.5" font-style="italic">W<tspan font-size="13" font-weight="bold" font-style="normal" dy="3.5" dx="-1">1</tspan></text>
<line x1="395.6" y1="670.4" x2="673.5" y2="670.4" stroke="#98aaea" stroke-width="1.0" stroke-dasharray="1.3 0.7"/>
<line x1="395.6" y1="825.5" x2="673.5" y2="825.5" stroke="#98aaea" stroke-width="1.0" stroke-dasharray="1.3 0.7"/>
<path d="M395.6,712.21 400.31,711.3 405.02,710.38 409.73,709.44 414.44,708.5 419.15,707.55 423.86,706.58 428.57,705.61 433.28,704.63 437.99,703.64 442.7,702.63 447.41,701.62 452.12,700.6 456.83,699.56 461.54,698.52 466.25,697.47 470.96,696.4 475.67,695.33 480.38,694.25 485.09,693.15 489.8,692.05 494.51,690.93 499.22,689.81 503.93,688.68 508.64,687.53 513.35,686.38 518.06,685.22 522.77,684.04 527.48,682.86 532.19,681.66 536.91,680.46 541.62,679.25 546.33,678.02 551.04,676.79 555.75,675.54 560.46,674.29 565.17,673.03 569.88,671.75 574.59,670.47 579.3,669.17 584.01,667.87 588.72,666.56 593.43,665.23 598.14,663.9 602.85,662.55 607.56,661.2 612.27,659.83 616.98,658.46 621.69,657.07 626.4,655.68 631.11,654.27 635.82,652.86 640.53,651.44 645.24,650 649.95,648.56 654.66,647.1 659.37,645.64 664.08,644.16 668.79,642.68 673.5,641.18" fill="none" stroke="#000" stroke-width="2.5" stroke-linejoin="round" stroke-linecap="butt" stroke-dasharray="2.4 2.5"/>
<path d="M395.6,710.55 400.31,709.64 405.02,708.73 409.73,707.79 414.44,706.85 419.15,705.9 423.86,704.93 428.57,703.95 433.28,702.96 437.99,701.95 442.7,700.94 447.41,699.91 452.12,698.87 456.83,697.82 461.54,696.76 466.25,695.68 470.96,694.59 475.67,693.49 480.38,692.38 485.09,691.26 489.8,690.12 494.51,688.97 499.22,687.81 503.93,686.64 508.64,685.46 513.35,684.26 518.06,683.05 522.77,681.83 527.48,680.6 532.19,679.35 536.91,678.1 541.62,676.83 546.33,675.55 551.04,674.26 555.75,672.95 560.46,671.63 565.17,670.3 569.88,668.96 574.59,667.61 579.3,666.25 584.01,664.87 588.72,663.48 593.43,662.08 598.14,660.66 602.85,659.24 607.56,657.8 612.27,656.35 616.98,654.89 621.69,653.42 626.4,651.93 631.11,650.43 635.82,648.92 640.53,647.4 645.24,645.87 649.95,644.32 654.66,642.77 659.37,641.2 664.08,639.61 668.79,638.02 673.5,636.41" fill="none" stroke="#ff0000" stroke-width="2.5" stroke-linejoin="round" stroke-linecap="butt" stroke-dasharray="2.4 2.5"/>
<path d="M395.6,708.67 400.31,707.78 405.02,706.88 409.73,705.97 414.44,705.04 419.15,704.1 423.86,703.15 428.57,702.19 433.28,701.21 437.99,700.21 442.7,699.21 447.41,698.19 452.12,697.16 456.83,696.11 461.54,695.05 466.25,693.98 470.96,692.89 475.67,691.79 480.38,690.68 485.09,689.55 489.8,688.41 494.51,687.26 499.22,686.1 503.93,684.92 508.64,683.72 513.35,682.52 518.06,681.3 522.77,680.07 527.48,678.82 532.19,677.56 536.91,676.29 541.62,675 546.33,673.7 551.04,672.39 555.75,671.07 560.46,669.73 565.17,668.38 569.88,667.01 574.59,665.63 579.3,664.24 584.01,662.83 588.72,661.41 593.43,659.98 598.14,658.54 602.85,657.08 607.56,655.61 612.27,654.12 616.98,652.62 621.69,651.11 626.4,649.58 631.11,648.04 635.82,646.49 640.53,644.93 645.24,643.35 649.95,641.76 654.66,640.15 659.37,638.53 664.08,636.9 668.79,635.26 673.5,633.6" fill="none" stroke="#0000ff" stroke-width="2.5" stroke-linejoin="round" stroke-linecap="butt" stroke-dasharray="2.4 2.5"/>
<path d="M395.6,830.15 400.31,830.04 405.02,829.93 409.73,829.81 414.44,829.68 419.15,829.56 423.86,829.42 428.57,829.28 433.28,829.14 437.99,828.98 442.7,828.82 447.41,828.66 452.12,828.49 456.83,828.3 461.54,828.12 466.25,827.92 470.96,827.71 475.67,827.5 480.38,827.27 485.09,827.04 489.8,826.79 494.51,826.54 499.22,826.27 503.93,825.99 508.64,825.7 513.35,825.4 518.06,825.08 522.77,824.75 527.48,824.41 532.19,824.05 536.91,823.67 541.62,823.28 546.33,822.87 551.04,822.45 555.75,822 560.46,821.53 565.17,821.05 569.88,820.54 574.59,820.01 579.3,819.46 584.01,818.88 588.72,818.28 593.43,817.65 598.14,816.99 602.85,816.31 607.56,815.59 612.27,814.85 616.98,814.07 621.69,813.25 626.4,812.41 631.11,811.52 635.82,810.59 640.53,809.63 645.24,808.62 649.95,807.57 654.66,806.47 659.37,805.32 664.08,804.12 668.79,802.87 673.5,801.57" fill="none" stroke="#000" stroke-width="2.7" stroke-linejoin="round" stroke-linecap="butt"/>
<path d="M395.6,830.05 400.31,829.94 405.02,829.83 409.73,829.71 414.44,829.59 419.15,829.46 423.86,829.33 428.57,829.19 433.28,829.04 437.99,828.88 442.7,828.72 447.41,828.55 452.12,828.38 456.83,828.19 461.54,828 466.25,827.8 470.96,827.58 475.67,827.36 480.38,827.13 485.09,826.89 489.8,826.63 494.51,826.37 499.22,826.09 503.93,825.8 508.64,825.49 513.35,825.17 518.06,824.84 522.77,824.49 527.48,824.13 532.19,823.74 536.91,823.34 541.62,822.92 546.33,822.49 551.04,822.03 555.75,821.55 560.46,821.05 565.17,820.52 569.88,819.97 574.59,819.4 579.3,818.79 584.01,818.16 588.72,817.5 593.43,816.81 598.14,816.09 602.85,815.34 607.56,814.55 612.27,813.72 616.98,812.85 621.69,811.95 626.4,811 631.11,810.01 635.82,808.97 640.53,807.88 645.24,806.75 649.95,805.56 654.66,804.31 659.37,803.01 664.08,801.65 668.79,800.22 673.5,798.73" fill="none" stroke="#ff0000" stroke-width="2.7" stroke-linejoin="round" stroke-linecap="butt"/>
<path d="M395.6,829.88 400.31,829.77 405.02,829.65 409.73,829.52 414.44,829.39 419.15,829.26 423.86,829.12 428.57,828.97 433.28,828.81 437.99,828.65 442.7,828.48 447.41,828.3 452.12,828.12 456.83,827.92 461.54,827.71 466.25,827.5 470.96,827.27 475.67,827.04 480.38,826.79 485.09,826.53 489.8,826.26 494.51,825.98 499.22,825.68 503.93,825.37 508.64,825.05 513.35,824.71 518.06,824.35 522.77,823.98 527.48,823.59 532.19,823.18 536.91,822.75 541.62,822.3 546.33,821.83 551.04,821.33 555.75,820.82 560.46,820.28 565.17,819.71 569.88,819.12 574.59,818.5 579.3,817.85 584.01,817.17 588.72,816.45 593.43,815.71 598.14,814.92 602.85,814.11 607.56,813.25 612.27,812.35 616.98,811.41 621.69,810.42 626.4,809.39 631.11,808.31 635.82,807.18 640.53,806 645.24,804.76 649.95,803.46 654.66,802.1 659.37,800.67 664.08,799.18 668.79,797.62 673.5,795.98" fill="none" stroke="#0000ff" stroke-width="2.7" stroke-linejoin="round" stroke-linecap="butt"/>
<rect x="395.6" y="620.5" width="277.9" height="214" fill="none" stroke="#4a4a4a" stroke-width="1.5"/>
<line x1="391.1" y1="834.5" x2="395.6" y2="834.5" stroke="#4a4a4a" stroke-width="1.4" />
<line x1="673.5" y1="834.5" x2="678" y2="834.5" stroke="#4a4a4a" stroke-width="1.4" />
<text x="389.8" y="837.5" font-size="13.5" font-weight="bold" font-style="normal" text-anchor="end" fill="#000" letter-spacing="-0.1" stroke="#000" stroke-width="0.8" >0</text>
<text x="680" y="837.5" font-size="13.5" font-weight="bold" font-style="normal" text-anchor="start" fill="#000" letter-spacing="-0.1" stroke="#000" stroke-width="0.8" >0</text>
<line x1="391.1" y1="791.7" x2="395.6" y2="791.7" stroke="#4a4a4a" stroke-width="1.4" />
<line x1="673.5" y1="791.7" x2="678" y2="791.7" stroke="#4a4a4a" stroke-width="1.4" />
<text x="389.8" y="794.7" font-size="13.5" font-weight="bold" font-style="normal" text-anchor="end" fill="#000" letter-spacing="-0.1" stroke="#000" stroke-width="0.8" >50</text>
<text x="680" y="794.7" font-size="13.5" font-weight="bold" font-style="normal" text-anchor="start" fill="#000" letter-spacing="-0.1" stroke="#000" stroke-width="0.8" >50</text>
<line x1="391.1" y1="748.9" x2="395.6" y2="748.9" stroke="#4a4a4a" stroke-width="1.4" />
<line x1="673.5" y1="748.9" x2="678" y2="748.9" stroke="#4a4a4a" stroke-width="1.4" />
<text x="389.8" y="751.9" font-size="13.5" font-weight="bold" font-style="normal" text-anchor="end" fill="#000" letter-spacing="-0.1" stroke="#000" stroke-width="0.8" >100</text>
<text x="680" y="751.9" font-size="13.5" font-weight="bold" font-style="normal" text-anchor="start" fill="#000" letter-spacing="-0.1" stroke="#000" stroke-width="0.8" >100</text>
<line x1="391.1" y1="706.1" x2="395.6" y2="706.1" stroke="#4a4a4a" stroke-width="1.4" />
<line x1="673.5" y1="706.1" x2="678" y2="706.1" stroke="#4a4a4a" stroke-width="1.4" />
<text x="389.8" y="709.1" font-size="13.5" font-weight="bold" font-style="normal" text-anchor="end" fill="#000" letter-spacing="-0.1" stroke="#000" stroke-width="0.8" >150</text>
<text x="680" y="709.1" font-size="13.5" font-weight="bold" font-style="normal" text-anchor="start" fill="#000" letter-spacing="-0.1" stroke="#000" stroke-width="0.8" >150</text>
<line x1="391.1" y1="663.3" x2="395.6" y2="663.3" stroke="#4a4a4a" stroke-width="1.4" />
<line x1="673.5" y1="663.3" x2="678" y2="663.3" stroke="#4a4a4a" stroke-width="1.4" />
<text x="389.8" y="666.3" font-size="13.5" font-weight="bold" font-style="normal" text-anchor="end" fill="#000" letter-spacing="-0.1" stroke="#000" stroke-width="0.8" >200</text>
<text x="680" y="666.3" font-size="13.5" font-weight="bold" font-style="normal" text-anchor="start" fill="#000" letter-spacing="-0.1" stroke="#000" stroke-width="0.8" >200</text>
<line x1="391.1" y1="620.5" x2="395.6" y2="620.5" stroke="#4a4a4a" stroke-width="1.4" />
<line x1="673.5" y1="620.5" x2="678" y2="620.5" stroke="#4a4a4a" stroke-width="1.4" />
<text x="389.8" y="623.5" font-size="13.5" font-weight="bold" font-style="normal" text-anchor="end" fill="#000" letter-spacing="-0.1" stroke="#000" stroke-width="0.8" >250</text>
<text x="680" y="623.5" font-size="13.5" font-weight="bold" font-style="normal" text-anchor="start" fill="#000" letter-spacing="-0.1" stroke="#000" stroke-width="0.8" >250</text>
<line x1="395.6" y1="834.5" x2="395.6" y2="838.8" stroke="#4a4a4a" stroke-width="1.4" />
<text x="395.6" y="852.1" font-size="13.5" font-weight="bold" font-style="normal" text-anchor="middle" fill="#000" letter-spacing="-0.3" stroke="#000" stroke-width="0.8" >0.80</text>
<line x1="451.18" y1="834.5" x2="451.18" y2="838.8" stroke="#4a4a4a" stroke-width="1.4" />
<text x="451.18" y="852.1" font-size="13.5" font-weight="bold" font-style="normal" text-anchor="middle" fill="#000" letter-spacing="-0.3" stroke="#000" stroke-width="0.8" >0.84</text>
<line x1="506.76" y1="834.5" x2="506.76" y2="838.8" stroke="#4a4a4a" stroke-width="1.4" />
<text x="506.76" y="852.1" font-size="13.5" font-weight="bold" font-style="normal" text-anchor="middle" fill="#000" letter-spacing="-0.3" stroke="#000" stroke-width="0.8" >0.88</text>
<line x1="562.34" y1="834.5" x2="562.34" y2="838.8" stroke="#4a4a4a" stroke-width="1.4" />
<text x="562.34" y="852.1" font-size="13.5" font-weight="bold" font-style="normal" text-anchor="middle" fill="#000" letter-spacing="-0.3" stroke="#000" stroke-width="0.8" >0.92</text>
<line x1="617.92" y1="834.5" x2="617.92" y2="838.8" stroke="#4a4a4a" stroke-width="1.4" />
<text x="617.92" y="852.1" font-size="13.5" font-weight="bold" font-style="normal" text-anchor="middle" fill="#000" letter-spacing="-0.3" stroke="#000" stroke-width="0.8" >0.96</text>
<line x1="673.5" y1="834.5" x2="673.5" y2="838.8" stroke="#4a4a4a" stroke-width="1.4" />
<text x="673.5" y="852.1" font-size="13.5" font-weight="bold" font-style="normal" text-anchor="middle" fill="#000" letter-spacing="-0.3" stroke="#000" stroke-width="0.8" >1.00</text>
<text x="0" y="0" transform="translate(358.55 727.7) rotate(-90) scale(0.92 1)" font-size="17.6" font-weight="bold" text-anchor="middle" stroke="#000" stroke-width="0.35" textLength="125.11" lengthAdjust="spacing">Resistance&#160;(&#937;)</text>
<text x="0" y="0" transform="translate(707.6 722.6) rotate(90) scale(0.92 1)" font-size="17.6" font-weight="bold" text-anchor="middle" stroke="#000" stroke-width="0.35" textLength="124.46" lengthAdjust="spacing">Reactance&#160;(&#937;)</text>
<text x="0" y="0" transform="translate(476.3 877.5) scale(0.92 1)" font-size="18" font-weight="bold" text-anchor="start" stroke="#000" stroke-width="0.35" textLength="149.13" lengthAdjust="spacing">Frequency (GHz)</text>
<text x="640.1" y="667.2" font-size="14.5" font-weight="bold" fill="#0c6a86" stroke="#2aa8c8" stroke-width="0.35" textLength="27.5" lengthAdjust="spacingAndGlyphs">191<tspan font-style="italic" font-weight="normal">j</tspan></text>
<text x="646.1" y="824.4" font-size="14.5" font-weight="bold" fill="#0c6a86" stroke="#2aa8c8" stroke-width="0.35" textLength="14.5" lengthAdjust="spacingAndGlyphs">10</text>
<ellipse cx="545.6" cy="675.5" rx="8.7" ry="16.1" fill="none" stroke="#111" stroke-width="1.2"/>
<line x1="545.6" y1="659.4" x2="560.8" y2="659.4" stroke="#000" stroke-width="1.6" />
<path d="M567.8,659.4 L557.8,655.8 L557.8,663 Z" fill="#000"/>
<ellipse cx="604.2" cy="810.8" rx="8.9" ry="16.4" fill="none" stroke="#111" stroke-width="1.2"/>
<line x1="604.2" y1="794.4" x2="589.8" y2="794.4" stroke="#000" stroke-width="1.6" />
<path d="M582.8,794.4 L592.8,790.8 L592.8,798 Z" fill="#000"/>
<rect x="551.8" y="731.1" width="109.7" height="46.5" fill="#fff" stroke="#555" stroke-width="1.4"/>
<line x1="556" y1="736" x2="579.9" y2="736" stroke="#000" stroke-width="2.3" />
<line x1="556" y1="741.6" x2="579.9" y2="741.6" stroke="#000" stroke-width="2.5" stroke-dasharray="2.4 2.8"/>
<text x="584.4" y="742.6" font-size="14.5" font-weight="bold" font-style="italic" stroke="#000" stroke-width="0.45" textLength="73.6" lengthAdjust="spacing">W<tspan font-size="11.5" dy="3.2" dx="-1.5" font-style="normal">1</tspan><tspan dy="-3.2"></tspan><tspan font-style="normal" font-weight="normal" stroke-width="0.3"> = </tspan><tspan font-weight="normal" font-style="normal" stroke-width="0.35">31</tspan><tspan font-style="normal"> mm</tspan></text>
<line x1="556" y1="751.6" x2="579.9" y2="751.6" stroke="#ff0000" stroke-width="2.3" />
<line x1="556" y1="757.2" x2="579.9" y2="757.2" stroke="#ff0000" stroke-width="2.5" stroke-dasharray="2.4 2.8"/>
<text x="584.4" y="758.2" font-size="14.5" font-weight="bold" font-style="italic" stroke="#000" stroke-width="0.45" textLength="73.6" lengthAdjust="spacing">W<tspan font-size="11.5" dy="3.2" dx="-1.5" font-style="normal">1</tspan><tspan dy="-3.2"></tspan><tspan font-style="normal" font-weight="normal" stroke-width="0.3"> = </tspan><tspan font-weight="normal" font-style="normal" stroke-width="0.35">32</tspan><tspan font-style="normal"> mm</tspan></text>
<line x1="556" y1="766.8" x2="579.9" y2="766.8" stroke="#0000ff" stroke-width="2.3" />
<line x1="556" y1="772.4" x2="579.9" y2="772.4" stroke="#0000ff" stroke-width="2.5" stroke-dasharray="2.4 2.8"/>
<text x="584.4" y="773.4" font-size="14.5" font-weight="bold" font-style="italic" stroke="#000" stroke-width="0.45" textLength="73.6" lengthAdjust="spacing">W<tspan font-size="11.5" dy="3.2" dx="-1.5" font-style="normal">1</tspan><tspan dy="-3.2"></tspan><tspan font-style="normal" font-weight="normal" stroke-width="0.3"> = </tspan><tspan font-weight="normal" font-style="normal" stroke-width="0.35">33</tspan><tspan font-style="normal"> mm</tspan></text>
<path d="M407,772.8 L446.5,788.69 L451.2,788.69 L490.7,772.8 L490.7,806.4 L461.1,800.57 L461.1,805.8 L436.4,805.8 L436.4,800.57 L407,806.4 Z" fill="#00ffff" stroke="#60d0d0" stroke-width="0.5"/>
<path d="M446.6,791.21 L451.1,791.21 L456,796.44 L456,801.87 L441.7,801.87 L441.7,796.44 Z" fill="#fff" stroke="#fff" stroke-width="0.8" stroke-linejoin="round"/>
<rect x="448.2" y="802.38" width="1.3" height="2.5" fill="#a01818"/>
<line x1="496.5" y1="773.8" x2="496.5" y2="805.4" stroke="#000" stroke-width="1.3" />
<path d="M496.5,773.4 L500.2,781.9 L492.8,781.9 Z" fill="#000"/>
<path d="M496.5,805.8 L492.8,797.3 L500.2,797.3 Z" fill="#000"/>
<line x1="491" y1="772.8" x2="502" y2="772.8" stroke="#222" stroke-width="1.1" />
<line x1="491" y1="806.4" x2="502" y2="806.4" stroke="#222" stroke-width="1.1" />
<text x="504.5" y="796.3" font-size="18.5" font-style="italic">W<tspan font-size="13" font-weight="bold" font-style="normal" dy="3.5" dx="-1">1</tspan></text>
<text x="339.7" y="906.3" font-size="23.5" font-weight="normal" font-style="normal" text-anchor="start" fill="#000" textLength="25.6" lengthAdjust="spacingAndGlyphs">(c)</text>
<line x1="51.6" y1="1068.2" x2="321" y2="1068.2" stroke="#98aaea" stroke-width="1.0" stroke-dasharray="1.3 0.7"/>
<clipPath id="cd"><rect x="51.9" y="930.3" width="269.1" height="222"/></clipPath><g clip-path="url(#cd)">
<path d="M51.88,946.41 55.44,946.97 58.93,947.69 62.34,948.57 65.67,949.6 68.91,950.77 72.08,952.09 75.17,953.53 78.18,955.11 81.11,956.82 83.97,958.64 86.75,960.58 89.45,962.62 92.07,964.78 94.62,967.03 97.1,969.37 99.5,971.81 101.82,974.33 104.08,976.92 106.25,979.59 108.36,982.34 110.39,985.14 112.36,988 114.25,990.92 116.06,993.88 117.81,996.89 119.49,999.94 121.1,1003.02 122.64,1006.13 124.11,1009.26 125.51,1012.4 126.85,1015.57 128.12,1018.74 129.32,1021.91 130.46,1025.08 131.54,1028.25 132.57,1031.42 133.55,1034.59 134.48,1037.75 135.38,1040.9 136.24,1044.05 137.07,1047.19 137.87,1050.32 138.65,1053.46 139.42,1056.61 140.18,1059.8 140.93,1063.05 141.67,1066.36 142.42,1069.76 143.18,1073.25 143.94,1076.87 144.72,1080.61 145.52,1084.51 146.35,1088.57 147.21,1092.81 148.1,1097.2 149.02,1101.61 149.99,1105.88 150.99,1109.86 152.04,1113.39 153.14,1116.31 154.28,1118.47 155.48,1119.71 156.73,1119.89 158.02,1118.94 159.36,1117.02 160.7,1114.3 162.05,1110.97 163.37,1107.19 164.66,1103.14 165.89,1098.99 167.04,1094.91 168.12,1091.01 169.13,1087.28 170.08,1083.68 170.99,1080.2 171.86,1076.81 172.72,1073.5 173.58,1070.23 174.43,1067 175.31,1063.77 176.22,1060.53 177.16,1057.27 178.14,1054.01 179.15,1050.73 180.21,1047.46 181.31,1044.19 182.45,1040.92 183.64,1037.66 184.87,1034.42 186.16,1031.19 187.5,1027.99 188.89,1024.81 190.33,1021.66 191.84,1018.55 193.4,1015.48 195.03,1012.45 196.72,1009.47 198.48,1006.54 200.3,1003.66 202.19,1000.84 204.16,998.09 206.19,995.41 208.31,992.79 210.5,990.26 212.77,987.8 215.12,985.43 217.55,983.14 220.07,980.95 222.67,978.86 225.37,976.86 228.14,974.97 231,973.17 233.94,971.47 236.95,969.86 240.02,968.33 243.15,966.9 246.34,965.54 249.58,964.26 252.87,963.07 256.2,961.94 259.57,960.89 262.97,959.9 266.39,958.98 269.84,958.13 273.3,957.33 276.78,956.59 280.26,955.91 283.75,955.28 287.23,954.69 290.71,954.16 294.17,953.66 297.62,953.21 301.04,952.79 304.44,952.41 307.81,952.06 311.14,951.73 314.42,951.44 317.67,951.17 320.86,950.92" fill="none" stroke="#000" stroke-width="2.5" stroke-linejoin="round" stroke-linecap="butt" stroke-dasharray="2.2 2.4"/>
<path d="M51.92,940 54.89,940.23 57.88,940.48 60.9,940.77 63.93,941.09 66.98,941.44 70.04,941.83 73.12,942.27 76.2,942.74 79.28,943.25 82.37,943.8 85.45,944.41 88.53,945.05 91.6,945.75 94.65,946.5 97.7,947.3 100.72,948.15 103.73,949.05 106.71,950.02 109.67,951.04 112.6,952.12 115.49,953.27 118.35,954.47 121.18,955.75 123.96,957.08 126.69,958.49 129.38,959.97 132.02,961.52 134.61,963.14 137.14,964.84 139.61,966.61 142.02,968.46 144.36,970.39 146.63,972.41 148.84,974.5 150.97,976.68 153.04,978.93 155.04,981.26 156.98,983.65 158.85,986.1 160.67,988.61 162.43,991.17 164.13,993.79 165.79,996.45 167.39,999.15 168.94,1001.89 170.45,1004.66 171.91,1007.46 173.33,1010.29 174.71,1013.13 176.06,1015.99 177.36,1018.86 178.64,1021.74 179.88,1024.62 181.1,1027.5 182.28,1030.38 183.45,1033.24 184.59,1036.09 185.7,1038.92 186.81,1041.73 187.89,1044.52 188.95,1047.3 189.99,1050.09 191,1052.88 191.98,1055.71 192.93,1058.57 193.85,1061.48 194.72,1064.45 195.57,1067.49 196.41,1070.58 197.27,1073.7 198.18,1076.84 199.15,1079.98 200.23,1083.12 201.43,1086.22 202.78,1089.29 204.3,1092.3 206.01,1095.15 207.89,1097.41 209.91,1098.53 212.01,1098.08 214.1,1096.36 216.02,1093.93 217.68,1091.25 219.11,1088.39 220.34,1085.39 221.41,1082.29 222.36,1079.11 223.23,1075.9 224.06,1072.68 224.89,1069.49 225.72,1066.33 226.57,1063.2 227.44,1060.11 228.33,1057.05 229.24,1054.02 230.18,1051.02 231.15,1048.06 232.16,1045.13 233.2,1042.24 234.29,1039.37 235.43,1036.54 236.61,1033.74 237.85,1030.97 239.14,1028.23 240.5,1025.52 241.92,1022.85 243.41,1020.2 244.97,1017.59 246.6,1015.01 248.3,1012.47 250.06,1009.96 251.89,1007.49 253.79,1005.07 255.74,1002.69 257.76,1000.36 259.83,998.07 261.97,995.83 264.16,993.65 266.41,991.52 268.71,989.45 271.07,987.43 273.47,985.48 275.93,983.58 278.43,981.76 280.99,980 283.58,978.31 286.23,976.68 288.91,975.14 291.64,973.66 294.41,972.27 297.22,970.95 300.06,969.72 302.94,968.57 305.86,967.5 308.81,966.52 311.79,965.63 314.8,964.84 317.84,964.13 320.91,963.53" fill="none" stroke="#ff0000" stroke-width="2.6" stroke-linejoin="round" stroke-linecap="butt"/>
<path d="M51.89,936.7 54.68,936.82 57.46,936.96 60.24,937.1 63.01,937.26 65.78,937.44 68.55,937.63 71.31,937.84 74.06,938.07 76.82,938.31 79.57,938.57 82.31,938.85 85.05,939.15 87.79,939.46 90.52,939.8 93.25,940.16 95.98,940.54 98.7,940.94 101.42,941.36 104.13,941.8 106.84,942.27 109.54,942.76 112.24,943.28 114.94,943.82 117.63,944.38 120.32,944.97 123,945.59 125.68,946.24 128.36,946.91 131.03,947.61 133.7,948.34 136.36,949.09 139.02,949.88 141.68,950.7 144.33,951.54 146.98,952.42 149.62,953.33 152.25,954.28 154.88,955.26 157.49,956.28 160.08,957.33 162.65,958.43 165.2,959.58 167.72,960.77 170.21,962.01 172.67,963.31 175.08,964.65 177.46,966.05 179.79,967.51 182.08,969.03 184.31,970.61 186.49,972.25 188.61,973.97 190.67,975.74 192.67,977.59 194.6,979.52 196.46,981.51 198.25,983.58 199.98,985.7 201.65,987.89 203.25,990.13 204.8,992.42 206.29,994.76 207.73,997.14 209.12,999.55 210.45,1001.99 211.75,1004.47 212.99,1006.96 214.2,1009.47 215.37,1011.99 216.5,1014.53 217.6,1017.07 218.68,1019.62 219.73,1022.17 220.77,1024.73 221.79,1027.29 222.82,1029.85 223.84,1032.41 224.86,1034.98 225.9,1037.54 226.95,1040.09 228.02,1042.64 229.11,1045.19 230.23,1047.73 231.39,1050.26 232.59,1052.78 233.83,1055.29 235.12,1057.79 236.47,1060.27 237.88,1062.74 239.35,1065.19 240.89,1067.63 242.51,1070.05 244.21,1072.44 245.99,1074.76 247.86,1076.81 249.83,1078.37 251.89,1079.23 254.04,1079.21 256.2,1078.38 258.27,1076.85 260.17,1074.77 261.91,1072.24 263.51,1069.41 264.98,1066.38 266.34,1063.29 267.63,1060.26 268.84,1057.36 270,1054.56 271.12,1051.88 272.2,1049.29 273.26,1046.78 274.31,1044.35 275.36,1041.98 276.42,1039.66 277.51,1037.39 278.64,1035.14 279.81,1032.91 281.05,1030.7 282.35,1028.48 283.74,1026.26 285.2,1024.03 286.72,1021.79 288.32,1019.56 289.98,1017.34 291.69,1015.13 293.45,1012.93 295.26,1010.74 297.12,1008.58 299.01,1006.44 300.93,1004.33 302.89,1002.25 304.86,1000.21 306.86,998.2 308.87,996.24 310.9,994.33 312.93,992.46 314.96,990.65 316.98,988.89 319,987.2" fill="none" stroke="#0000ff" stroke-width="2.6" stroke-linejoin="round" stroke-linecap="butt" stroke-dasharray="10.5 7"/>
</g>
<rect x="51.6" y="934.3" width="269.4" height="214" fill="none" stroke="#4a4a4a" stroke-width="1.5"/>
<line x1="47.1" y1="934.3" x2="51.6" y2="934.3" stroke="#4a4a4a" stroke-width="1.4" />
<text x="45.4" y="937.7" font-size="13.5" font-weight="bold" font-style="normal" text-anchor="end" fill="#000" stroke="#000" stroke-width="0.8" >0</text>
<line x1="47.1" y1="961.05" x2="51.6" y2="961.05" stroke="#4a4a4a" stroke-width="1.4" />
<text x="45.4" y="964.45" font-size="13.5" font-weight="bold" font-style="normal" text-anchor="end" fill="#000" stroke="#000" stroke-width="0.8" >-2</text>
<line x1="47.1" y1="987.8" x2="51.6" y2="987.8" stroke="#4a4a4a" stroke-width="1.4" />
<text x="45.4" y="991.2" font-size="13.5" font-weight="bold" font-style="normal" text-anchor="end" fill="#000" stroke="#000" stroke-width="0.8" >-4</text>
<line x1="47.1" y1="1014.55" x2="51.6" y2="1014.55" stroke="#4a4a4a" stroke-width="1.4" />
<text x="45.4" y="1017.95" font-size="13.5" font-weight="bold" font-style="normal" text-anchor="end" fill="#000" stroke="#000" stroke-width="0.8" >-6</text>
<line x1="47.1" y1="1041.3" x2="51.6" y2="1041.3" stroke="#4a4a4a" stroke-width="1.4" />
<text x="45.4" y="1044.7" font-size="13.5" font-weight="bold" font-style="normal" text-anchor="end" fill="#000" stroke="#000" stroke-width="0.8" >-8</text>
<line x1="47.1" y1="1068.05" x2="51.6" y2="1068.05" stroke="#4a4a4a" stroke-width="1.4" />
<text x="45.4" y="1071.45" font-size="13.5" font-weight="bold" font-style="normal" text-anchor="end" fill="#000" stroke="#000" stroke-width="0.8" >-10</text>
<line x1="47.1" y1="1094.8" x2="51.6" y2="1094.8" stroke="#4a4a4a" stroke-width="1.4" />
<text x="45.4" y="1098.2" font-size="13.5" font-weight="bold" font-style="normal" text-anchor="end" fill="#000" stroke="#000" stroke-width="0.8" >-12</text>
<line x1="47.1" y1="1121.55" x2="51.6" y2="1121.55" stroke="#4a4a4a" stroke-width="1.4" />
<text x="45.4" y="1124.95" font-size="13.5" font-weight="bold" font-style="normal" text-anchor="end" fill="#000" stroke="#000" stroke-width="0.8" >-14</text>
<line x1="47.1" y1="1148.3" x2="51.6" y2="1148.3" stroke="#4a4a4a" stroke-width="1.4" />
<text x="45.4" y="1151.7" font-size="13.5" font-weight="bold" font-style="normal" text-anchor="end" fill="#000" stroke="#000" stroke-width="0.8" >-16</text>
<line x1="51.6" y1="1148.3" x2="51.6" y2="1152.6" stroke="#4a4a4a" stroke-width="1.4" />
<text x="51.6" y="1165.9" font-size="13.5" font-weight="bold" font-style="normal" text-anchor="middle" fill="#000" letter-spacing="-0.3" stroke="#000" stroke-width="0.8" >0.80</text>
<line x1="105.48" y1="1148.3" x2="105.48" y2="1152.6" stroke="#4a4a4a" stroke-width="1.4" />
<text x="105.48" y="1165.9" font-size="13.5" font-weight="bold" font-style="normal" text-anchor="middle" fill="#000" letter-spacing="-0.3" stroke="#000" stroke-width="0.8" >0.84</text>
<line x1="159.36" y1="1148.3" x2="159.36" y2="1152.6" stroke="#4a4a4a" stroke-width="1.4" />
<text x="159.36" y="1165.9" font-size="13.5" font-weight="bold" font-style="normal" text-anchor="middle" fill="#000" letter-spacing="-0.3" stroke="#000" stroke-width="0.8" >0.88</text>
<line x1="213.24" y1="1148.3" x2="213.24" y2="1152.6" stroke="#4a4a4a" stroke-width="1.4" />
<text x="213.24" y="1165.9" font-size="13.5" font-weight="bold" font-style="normal" text-anchor="middle" fill="#000" letter-spacing="-0.3" stroke="#000" stroke-width="0.8" >0.92</text>
<line x1="267.12" y1="1148.3" x2="267.12" y2="1152.6" stroke="#4a4a4a" stroke-width="1.4" />
<text x="267.12" y="1165.9" font-size="13.5" font-weight="bold" font-style="normal" text-anchor="middle" fill="#000" letter-spacing="-0.3" stroke="#000" stroke-width="0.8" >0.96</text>
<line x1="321" y1="1148.3" x2="321" y2="1152.6" stroke="#4a4a4a" stroke-width="1.4" />
<text x="321" y="1165.9" font-size="13.5" font-weight="bold" font-style="normal" text-anchor="middle" fill="#000" letter-spacing="-0.3" stroke="#000" stroke-width="0.8" >1.00</text>
<text x="0" y="0" transform="translate(17.65 1041.3) rotate(-90) scale(0.92 1)" font-size="17.6" font-weight="bold" text-anchor="middle" stroke="#000" stroke-width="0.35" textLength="235.98" lengthAdjust="spacing">Reflection&#160;Coefficient&#160;(dB)</text>
<text x="0" y="0" transform="translate(116.3 1188) scale(0.92 1)" font-size="18" font-weight="bold" text-anchor="start" stroke="#000" stroke-width="0.35" textLength="149.13" lengthAdjust="spacing">Frequency (GHz)</text>
<rect x="220.5" y="1098.2" width="99.1" height="46.1" fill="#fff" stroke="#555" stroke-width="1.4"/>
<line x1="222.1" y1="1106.6" x2="249.8" y2="1106.6" stroke="#000" stroke-width="2.5" stroke-dasharray="2.4 2.8"/>
<text x="252.3" y="1109.6" font-size="14.5" font-weight="bold" font-style="italic" stroke="#000" stroke-width="0.45" textLength="65.3" lengthAdjust="spacing">W<tspan font-size="11.5" dy="3.2" dx="-1.5" font-style="italic">4</tspan><tspan dy="-3.2"></tspan><tspan font-style="normal" font-weight="normal" stroke-width="0.3">= </tspan><tspan font-weight="normal" font-style="normal" stroke-width="0.35">1</tspan><tspan font-style="normal"> mm</tspan></text>
<line x1="222.1" y1="1121.7" x2="249.8" y2="1121.7" stroke="#ff0000" stroke-width="2.6" />
<text x="252.3" y="1124.7" font-size="14.5" font-weight="bold" font-style="italic" stroke="#000" stroke-width="0.45" textLength="65.3" lengthAdjust="spacing">W<tspan font-size="11.5" dy="3.2" dx="-1.5" font-style="italic">4</tspan><tspan dy="-3.2"></tspan><tspan font-style="normal" font-weight="normal" stroke-width="0.3">= </tspan><tspan font-weight="normal" font-style="normal" stroke-width="0.35">2</tspan><tspan font-style="normal"> mm</tspan></text>
<line x1="222.1" y1="1136.4" x2="249.8" y2="1136.4" stroke="#0000ff" stroke-width="2.6" stroke-dasharray="10.2 8"/>
<text x="252.3" y="1139.4" font-size="14.5" font-weight="bold" font-style="italic" stroke="#000" stroke-width="0.45" textLength="65.3" lengthAdjust="spacing">W<tspan font-size="11.5" dy="3.2" dx="-1.5" font-style="italic">4</tspan><tspan dy="-3.2"></tspan><tspan font-style="normal" font-weight="normal" stroke-width="0.3">= </tspan><tspan font-weight="normal" font-style="normal" stroke-width="0.35">3</tspan><tspan font-style="normal"> mm</tspan></text>
<path d="M58.3,1106.3 L97.8,1122.19 L102.5,1122.19 L142,1106.3 L142,1139.9 L112.4,1134.07 L112.4,1139.3 L87.7,1139.3 L87.7,1134.07 L58.3,1139.9 Z" fill="#00ffff" stroke="#60d0d0" stroke-width="0.5"/>
<path d="M97.9,1124.71 L102.4,1124.71 L107.3,1129.94 L107.3,1135.37 L93,1135.37 L93,1129.94 Z" fill="#fff" stroke="#fff" stroke-width="0.8" stroke-linejoin="round"/>
<rect x="99.5" y="1135.88" width="1.3" height="2.5" fill="#a01818"/>
<rect x="94.95" y="1119.5" width="10.4" height="1.6" fill="#666"/>
<rect x="94.95" y="1124.3" width="10.4" height="1.8" fill="#333"/>
<line x1="100.15" y1="1107.3" x2="100.15" y2="1112.3" stroke="#000" stroke-width="1.2" />
<path d="M100.15,1119.3 L96.55,1110.8 L103.75,1110.8 Z" fill="#000"/>
<line x1="100.15" y1="1133.3" x2="100.15" y2="1138.8" stroke="#000" stroke-width="1.2" />
<path d="M100.15,1126.3 L103.75,1134.8 L96.55,1134.8 Z" fill="#000"/>
<rect x="99.55" y="1134.8" width="1.2" height="4" fill="#a01818"/>
<text x="88.65" y="1095.5" font-size="18.5" font-style="italic">W<tspan font-size="13" font-weight="bold" font-style="normal" dy="3.5" dx="-1">4</tspan></text>
<line x1="397" y1="1013" x2="672.8" y2="1013" stroke="#8fc0ea" stroke-width="1.0" stroke-dasharray="1.3 0.7"/>
<line x1="397" y1="1140.5" x2="672.8" y2="1140.5" stroke="#8fc0ea" stroke-width="1.0" stroke-dasharray="1.3 0.7"/>
<path d="M397,1036.69 401.67,1035.76 406.35,1034.83 411.02,1033.88 415.7,1032.93 420.37,1031.96 425.05,1030.98 429.72,1030 434.4,1029 439.07,1028 443.75,1026.98 448.42,1025.95 453.09,1024.92 457.77,1023.87 462.44,1022.81 467.12,1021.74 471.79,1020.67 476.47,1019.58 481.14,1018.48 485.82,1017.37 490.49,1016.25 495.17,1015.12 499.84,1013.99 504.52,1012.84 509.19,1011.68 513.86,1010.51 518.54,1009.33 523.21,1008.14 527.89,1006.94 532.56,1005.73 537.24,1004.51 541.91,1003.28 546.59,1002.03 551.26,1000.78 555.94,999.52 560.61,998.25 565.28,996.97 569.96,995.68 574.63,994.37 579.31,993.06 583.98,991.74 588.66,990.41 593.33,989.06 598.01,987.71 602.68,986.35 607.36,984.97 612.03,983.59 616.71,982.19 621.38,980.79 626.05,979.38 630.73,977.95 635.4,976.52 640.08,975.07 644.75,973.62 649.43,972.15 654.1,970.67 658.78,969.19 663.45,967.69 668.13,966.19 672.8,964.67" fill="none" stroke="#000" stroke-width="2.5" stroke-linejoin="round" stroke-linecap="butt" stroke-dasharray="2.4 2.5"/>
<path d="M397,1045.14 401.67,1044.41 406.35,1043.66 411.02,1042.9 415.7,1042.14 420.37,1041.36 425.05,1040.58 429.72,1039.78 434.4,1038.98 439.07,1038.16 443.75,1037.34 448.42,1036.5 453.09,1035.66 457.77,1034.81 462.44,1033.94 467.12,1033.07 471.79,1032.18 476.47,1031.29 481.14,1030.39 485.82,1029.47 490.49,1028.55 495.17,1027.62 499.84,1026.67 504.52,1025.72 509.19,1024.76 513.86,1023.78 518.54,1022.8 523.21,1021.81 527.89,1020.8 532.56,1019.79 537.24,1018.77 541.91,1017.74 546.59,1016.7 551.26,1015.64 555.94,1014.58 560.61,1013.51 565.28,1012.43 569.96,1011.34 574.63,1010.23 579.31,1009.12 583.98,1008 588.66,1006.87 593.33,1005.73 598.01,1004.58 602.68,1003.42 607.36,1002.25 612.03,1001.07 616.71,999.88 621.38,998.68 626.05,997.47 630.73,996.25 635.4,995.02 640.08,993.78 644.75,992.53 649.43,991.27 654.1,990 658.78,988.72 663.45,987.43 668.13,986.13 672.8,984.82" fill="none" stroke="#ff0000" stroke-width="2.5" stroke-linejoin="round" stroke-linecap="butt" stroke-dasharray="2.4 2.5"/>
<path d="M397,1050.85 401.67,1050.18 406.35,1049.5 411.02,1048.81 415.7,1048.12 420.37,1047.42 425.05,1046.71 429.72,1045.99 434.4,1045.27 439.07,1044.54 443.75,1043.8 448.42,1043.06 453.09,1042.31 457.77,1041.55 462.44,1040.78 467.12,1040.01 471.79,1039.23 476.47,1038.44 481.14,1037.65 485.82,1036.85 490.49,1036.04 495.17,1035.23 499.84,1034.4 504.52,1033.57 509.19,1032.74 513.86,1031.89 518.54,1031.04 523.21,1030.18 527.89,1029.31 532.56,1028.44 537.24,1027.56 541.91,1026.67 546.59,1025.78 551.26,1024.88 555.94,1023.97 560.61,1023.05 565.28,1022.13 569.96,1021.2 574.63,1020.26 579.31,1019.32 583.98,1018.36 588.66,1017.41 593.33,1016.44 598.01,1015.47 602.68,1014.49 607.36,1013.5 612.03,1012.5 616.71,1011.5 621.38,1010.49 626.05,1009.47 630.73,1008.45 635.4,1007.42 640.08,1006.38 644.75,1005.34 649.43,1004.28 654.1,1003.22 658.78,1002.16 663.45,1001.08 668.13,1000 672.8,998.92" fill="none" stroke="#0000ff" stroke-width="2.5" stroke-linejoin="round" stroke-linecap="butt" stroke-dasharray="2.4 2.5"/>
<path d="M397,1142.3 401.67,1142.18 406.35,1142.04 411.02,1141.91 415.7,1141.76 420.37,1141.61 425.05,1141.45 429.72,1141.28 434.4,1141.1 439.07,1140.92 443.75,1140.73 448.42,1140.52 453.09,1140.31 457.77,1140.09 462.44,1139.85 467.12,1139.61 471.79,1139.35 476.47,1139.08 481.14,1138.79 485.82,1138.5 490.49,1138.18 495.17,1137.86 499.84,1137.51 504.52,1137.15 509.19,1136.77 513.86,1136.38 518.54,1135.96 523.21,1135.53 527.89,1135.07 532.56,1134.59 537.24,1134.09 541.91,1133.56 546.59,1133.01 551.26,1132.43 555.94,1131.82 560.61,1131.18 565.28,1130.51 569.96,1129.81 574.63,1129.07 579.31,1128.3 583.98,1127.49 588.66,1126.64 593.33,1125.75 598.01,1124.81 602.68,1123.83 607.36,1122.81 612.03,1121.73 616.71,1120.6 621.38,1119.41 626.05,1118.16 630.73,1116.86 635.4,1115.49 640.08,1114.06 644.75,1112.55 649.43,1110.97 654.1,1109.31 658.78,1107.58 663.45,1105.75 668.13,1103.84 672.8,1101.84" fill="none" stroke="#000" stroke-width="2.7" stroke-linejoin="round" stroke-linecap="butt"/>
<path d="M397,1142.86 401.67,1142.78 406.35,1142.7 411.02,1142.62 415.7,1142.53 420.37,1142.44 425.05,1142.35 429.72,1142.25 434.4,1142.14 439.07,1142.03 443.75,1141.91 448.42,1141.79 453.09,1141.66 457.77,1141.53 462.44,1141.39 467.12,1141.24 471.79,1141.09 476.47,1140.92 481.14,1140.75 485.82,1140.57 490.49,1140.38 495.17,1140.19 499.84,1139.98 504.52,1139.76 509.19,1139.53 513.86,1139.29 518.54,1139.04 523.21,1138.77 527.89,1138.5 532.56,1138.2 537.24,1137.9 541.91,1137.58 546.59,1137.24 551.26,1136.88 555.94,1136.51 560.61,1136.12 565.28,1135.71 569.96,1135.28 574.63,1134.83 579.31,1134.36 583.98,1133.86 588.66,1133.34 593.33,1132.79 598.01,1132.21 602.68,1131.61 607.36,1130.98 612.03,1130.31 616.71,1129.61 621.38,1128.88 626.05,1128.11 630.73,1127.3 635.4,1126.45 640.08,1125.56 644.75,1124.63 649.43,1123.65 654.1,1122.62 658.78,1121.54 663.45,1120.41 668.13,1119.22 672.8,1117.97" fill="none" stroke="#ff0000" stroke-width="2.7" stroke-linejoin="round" stroke-linecap="butt"/>
<path d="M397,1144.71 401.67,1144.63 406.35,1144.55 411.02,1144.46 415.7,1144.38 420.37,1144.28 425.05,1144.19 429.72,1144.09 434.4,1143.98 439.07,1143.88 443.75,1143.76 448.42,1143.65 453.09,1143.52 457.77,1143.4 462.44,1143.26 467.12,1143.13 471.79,1142.98 476.47,1142.83 481.14,1142.68 485.82,1142.51 490.49,1142.35 495.17,1142.17 499.84,1141.99 504.52,1141.8 509.19,1141.6 513.86,1141.39 518.54,1141.18 523.21,1140.95 527.89,1140.72 532.56,1140.47 537.24,1140.22 541.91,1139.96 546.59,1139.68 551.26,1139.4 555.94,1139.1 560.61,1138.79 565.28,1138.47 569.96,1138.13 574.63,1137.78 579.31,1137.41 583.98,1137.03 588.66,1136.64 593.33,1136.23 598.01,1135.8 602.68,1135.35 607.36,1134.89 612.03,1134.4 616.71,1133.9 621.38,1133.37 626.05,1132.83 630.73,1132.26 635.4,1131.66 640.08,1131.05 644.75,1130.4 649.43,1129.73 654.1,1129.04 658.78,1128.31 663.45,1127.56 668.13,1126.77 672.8,1125.95" fill="none" stroke="#0000ff" stroke-width="2.7" stroke-linejoin="round" stroke-linecap="butt"/>
<rect x="397" y="936.2" width="275.8" height="211.4" fill="none" stroke="#4a4a4a" stroke-width="1.5"/>
<line x1="392.5" y1="1147.6" x2="397" y2="1147.6" stroke="#4a4a4a" stroke-width="1.4" />
<line x1="672.8" y1="1147.6" x2="677.3" y2="1147.6" stroke="#4a4a4a" stroke-width="1.4" />
<text x="391.2" y="1150.6" font-size="13.5" font-weight="bold" font-style="normal" text-anchor="end" fill="#000" letter-spacing="-0.1" stroke="#000" stroke-width="0.8" >0</text>
<text x="681" y="1150.6" font-size="13.5" font-weight="bold" font-style="normal" text-anchor="start" fill="#000" letter-spacing="-0.1" stroke="#000" stroke-width="0.8" >0</text>
<line x1="392.5" y1="1112.37" x2="397" y2="1112.37" stroke="#4a4a4a" stroke-width="1.4" />
<line x1="672.8" y1="1112.37" x2="677.3" y2="1112.37" stroke="#4a4a4a" stroke-width="1.4" />
<text x="391.2" y="1115.37" font-size="13.5" font-weight="bold" font-style="normal" text-anchor="end" fill="#000" letter-spacing="-0.1" stroke="#000" stroke-width="0.8" >50</text>
<text x="681" y="1115.37" font-size="13.5" font-weight="bold" font-style="normal" text-anchor="start" fill="#000" letter-spacing="-0.1" stroke="#000" stroke-width="0.8" >50</text>
<line x1="392.5" y1="1077.13" x2="397" y2="1077.13" stroke="#4a4a4a" stroke-width="1.4" />
<line x1="672.8" y1="1077.13" x2="677.3" y2="1077.13" stroke="#4a4a4a" stroke-width="1.4" />
<text x="391.2" y="1080.13" font-size="13.5" font-weight="bold" font-style="normal" text-anchor="end" fill="#000" letter-spacing="-0.1" stroke="#000" stroke-width="0.8" >100</text>
<text x="681" y="1080.13" font-size="13.5" font-weight="bold" font-style="normal" text-anchor="start" fill="#000" letter-spacing="-0.1" stroke="#000" stroke-width="0.8" >100</text>
<line x1="392.5" y1="1041.9" x2="397" y2="1041.9" stroke="#4a4a4a" stroke-width="1.4" />
<line x1="672.8" y1="1041.9" x2="677.3" y2="1041.9" stroke="#4a4a4a" stroke-width="1.4" />
<text x="391.2" y="1044.9" font-size="13.5" font-weight="bold" font-style="normal" text-anchor="end" fill="#000" letter-spacing="-0.1" stroke="#000" stroke-width="0.8" >150</text>
<text x="681" y="1044.9" font-size="13.5" font-weight="bold" font-style="normal" text-anchor="start" fill="#000" letter-spacing="-0.1" stroke="#000" stroke-width="0.8" >150</text>
<line x1="392.5" y1="1006.67" x2="397" y2="1006.67" stroke="#4a4a4a" stroke-width="1.4" />
<line x1="672.8" y1="1006.67" x2="677.3" y2="1006.67" stroke="#4a4a4a" stroke-width="1.4" />
<text x="391.2" y="1009.67" font-size="13.5" font-weight="bold" font-style="normal" text-anchor="end" fill="#000" letter-spacing="-0.1" stroke="#000" stroke-width="0.8" >200</text>
<text x="681" y="1009.67" font-size="13.5" font-weight="bold" font-style="normal" text-anchor="start" fill="#000" letter-spacing="-0.1" stroke="#000" stroke-width="0.8" >200</text>
<line x1="392.5" y1="971.43" x2="397" y2="971.43" stroke="#4a4a4a" stroke-width="1.4" />
<line x1="672.8" y1="971.43" x2="677.3" y2="971.43" stroke="#4a4a4a" stroke-width="1.4" />
<text x="391.2" y="974.43" font-size="13.5" font-weight="bold" font-style="normal" text-anchor="end" fill="#000" letter-spacing="-0.1" stroke="#000" stroke-width="0.8" >250</text>
<text x="681" y="974.43" font-size="13.5" font-weight="bold" font-style="normal" text-anchor="start" fill="#000" letter-spacing="-0.1" stroke="#000" stroke-width="0.8" >250</text>
<line x1="392.5" y1="936.2" x2="397" y2="936.2" stroke="#4a4a4a" stroke-width="1.4" />
<line x1="672.8" y1="936.2" x2="677.3" y2="936.2" stroke="#4a4a4a" stroke-width="1.4" />
<text x="391.2" y="939.2" font-size="13.5" font-weight="bold" font-style="normal" text-anchor="end" fill="#000" letter-spacing="-0.1" stroke="#000" stroke-width="0.8" >300</text>
<text x="681" y="939.2" font-size="13.5" font-weight="bold" font-style="normal" text-anchor="start" fill="#000" letter-spacing="-0.1" stroke="#000" stroke-width="0.8" >300</text>
<line x1="397" y1="1147.6" x2="397" y2="1151.9" stroke="#4a4a4a" stroke-width="1.4" />
<text x="397" y="1165.2" font-size="13.5" font-weight="bold" font-style="normal" text-anchor="middle" fill="#000" letter-spacing="-0.3" stroke="#000" stroke-width="0.8" >0.80</text>
<line x1="452.16" y1="1147.6" x2="452.16" y2="1151.9" stroke="#4a4a4a" stroke-width="1.4" />
<text x="452.16" y="1165.2" font-size="13.5" font-weight="bold" font-style="normal" text-anchor="middle" fill="#000" letter-spacing="-0.3" stroke="#000" stroke-width="0.8" >0.84</text>
<line x1="507.32" y1="1147.6" x2="507.32" y2="1151.9" stroke="#4a4a4a" stroke-width="1.4" />
<text x="507.32" y="1165.2" font-size="13.5" font-weight="bold" font-style="normal" text-anchor="middle" fill="#000" letter-spacing="-0.3" stroke="#000" stroke-width="0.8" >0.88</text>
<line x1="562.48" y1="1147.6" x2="562.48" y2="1151.9" stroke="#4a4a4a" stroke-width="1.4" />
<text x="562.48" y="1165.2" font-size="13.5" font-weight="bold" font-style="normal" text-anchor="middle" fill="#000" letter-spacing="-0.3" stroke="#000" stroke-width="0.8" >0.92</text>
<line x1="617.64" y1="1147.6" x2="617.64" y2="1151.9" stroke="#4a4a4a" stroke-width="1.4" />
<text x="617.64" y="1165.2" font-size="13.5" font-weight="bold" font-style="normal" text-anchor="middle" fill="#000" letter-spacing="-0.3" stroke="#000" stroke-width="0.8" >0.96</text>
<line x1="672.8" y1="1147.6" x2="672.8" y2="1151.9" stroke="#4a4a4a" stroke-width="1.4" />
<text x="672.8" y="1165.2" font-size="13.5" font-weight="bold" font-style="normal" text-anchor="middle" fill="#000" letter-spacing="-0.3" stroke="#000" stroke-width="0.8" >1.00</text>
<text x="0" y="0" transform="translate(361.35 1042.5) rotate(-90) scale(0.92 1)" font-size="17.6" font-weight="bold" text-anchor="middle" stroke="#000" stroke-width="0.35" textLength="125.11" lengthAdjust="spacing">Resistance&#160;(&#937;)</text>
<text x="0" y="0" transform="translate(706.4 1040.1) rotate(90) scale(0.92 1)" font-size="17.6" font-weight="bold" text-anchor="middle" stroke="#000" stroke-width="0.35" textLength="123.37" lengthAdjust="spacing">Reactance&#160;(&#937;)</text>
<text x="0" y="0" transform="translate(476.5 1190) scale(0.92 1)" font-size="18" font-weight="bold" text-anchor="start" stroke="#000" stroke-width="0.35" textLength="149.78" lengthAdjust="spacing">Frequency (GHz)</text>
<text x="640.9" y="1025.9" font-size="14.5" font-weight="bold" fill="#0c6a86" stroke="#2aa8c8" stroke-width="0.35" textLength="27.7" lengthAdjust="spacingAndGlyphs">191<tspan font-style="italic" font-weight="normal">j</tspan></text>
<text x="651.1" y="1140.7" font-size="14.5" font-weight="bold" fill="#0c6a86" stroke="#2aa8c8" stroke-width="0.35" textLength="14.7" lengthAdjust="spacingAndGlyphs">10</text>
<ellipse cx="548.6" cy="1017.2" rx="8.6" ry="25.5" fill="none" stroke="#111" stroke-width="1.2"/>
<line x1="548.6" y1="991.7" x2="564.7" y2="991.7" stroke="#000" stroke-width="1.6" />
<path d="M571.7,991.7 L561.7,988.1 L561.7,995.3 Z" fill="#000"/>
<ellipse cx="579.2" cy="1127.9" rx="9" ry="16.5" fill="none" stroke="#111" stroke-width="1.2"/>
<line x1="579.2" y1="1111.4" x2="564.2" y2="1111.4" stroke="#000" stroke-width="1.6" />
<path d="M557.2,1111.4 L567.2,1107.8 L567.2,1115 Z" fill="#000"/>
<rect x="565.5" y="1050.3" width="99" height="46.5" fill="#fff" stroke="#555" stroke-width="1.4"/>
<line x1="567.2" y1="1055.9" x2="591" y2="1055.9" stroke="#000" stroke-width="2.3" />
<line x1="567.2" y1="1060.4" x2="591" y2="1060.4" stroke="#000" stroke-width="2.5" stroke-dasharray="2.4 2.8"/>
<text x="596.9" y="1061.7" font-size="14.5" font-weight="bold" font-style="italic" stroke="#000" stroke-width="0.45" textLength="64.3" lengthAdjust="spacing">W<tspan font-size="11.5" dy="3.2" dx="-1.5" font-style="italic">4</tspan><tspan dy="-3.2"></tspan><tspan font-style="normal" font-weight="normal" stroke-width="0.3">= </tspan><tspan font-weight="normal" font-style="normal" stroke-width="0.35">1</tspan><tspan font-style="normal"> mm</tspan></text>
<line x1="567.2" y1="1070.9" x2="591" y2="1070.9" stroke="#ff0000" stroke-width="2.3" />
<line x1="567.2" y1="1075.4" x2="591" y2="1075.4" stroke="#ff0000" stroke-width="2.5" stroke-dasharray="2.4 2.8"/>
<text x="596.9" y="1076.7" font-size="14.5" font-weight="bold" font-style="italic" stroke="#000" stroke-width="0.45" textLength="64.3" lengthAdjust="spacing">W<tspan font-size="11.5" dy="3.2" dx="-1.5" font-style="italic">4</tspan><tspan dy="-3.2"></tspan><tspan font-style="normal" font-weight="normal" stroke-width="0.3">= </tspan><tspan font-weight="normal" font-style="normal" stroke-width="0.35">2</tspan><tspan font-style="normal"> mm</tspan></text>
<line x1="567.2" y1="1085.7" x2="591" y2="1085.7" stroke="#0000ff" stroke-width="2.3" />
<line x1="567.2" y1="1090.2" x2="591" y2="1090.2" stroke="#0000ff" stroke-width="2.5" stroke-dasharray="2.4 2.8"/>
<text x="596.9" y="1091.5" font-size="14.5" font-weight="bold" font-style="italic" stroke="#000" stroke-width="0.45" textLength="64.3" lengthAdjust="spacing">W<tspan font-size="11.5" dy="3.2" dx="-1.5" font-style="italic">4</tspan><tspan dy="-3.2"></tspan><tspan font-style="normal" font-weight="normal" stroke-width="0.3">= </tspan><tspan font-weight="normal" font-style="normal" stroke-width="0.35">3</tspan><tspan font-style="normal"> mm</tspan></text>
<path d="M406.1,1093.2 L445.6,1109.09 L450.3,1109.09 L489.8,1093.2 L489.8,1126.8 L460.2,1120.97 L460.2,1126.2 L435.5,1126.2 L435.5,1120.97 L406.1,1126.8 Z" fill="#00ffff" stroke="#60d0d0" stroke-width="0.5"/>
<path d="M445.7,1111.61 L450.2,1111.61 L455.1,1116.84 L455.1,1122.27 L440.8,1122.27 L440.8,1116.84 Z" fill="#fff" stroke="#fff" stroke-width="0.8" stroke-linejoin="round"/>
<rect x="447.3" y="1122.78" width="1.3" height="2.5" fill="#a01818"/>
<rect x="442.75" y="1106.4" width="10.4" height="1.6" fill="#666"/>
<rect x="442.75" y="1111.2" width="10.4" height="1.8" fill="#333"/>
<line x1="447.95" y1="1094.2" x2="447.95" y2="1099.2" stroke="#000" stroke-width="1.2" />
<path d="M447.95,1106.2 L444.35,1097.7 L451.55,1097.7 Z" fill="#000"/>
<line x1="447.95" y1="1120.2" x2="447.95" y2="1125.7" stroke="#000" stroke-width="1.2" />
<path d="M447.95,1113.2 L451.55,1121.7 L444.35,1121.7 Z" fill="#000"/>
<rect x="447.35" y="1121.7" width="1.2" height="4" fill="#a01818"/>
<text x="436.45" y="1082.4" font-size="18.5" font-style="italic">W<tspan font-size="13" font-weight="bold" font-style="normal" dy="3.5" dx="-1">4</tspan></text>
<text x="338.5" y="1213.7" font-size="23.5" font-weight="normal" font-style="normal" text-anchor="start" fill="#000" textLength="28.2" lengthAdjust="spacingAndGlyphs">(d)</text>
</svg></body></html>
